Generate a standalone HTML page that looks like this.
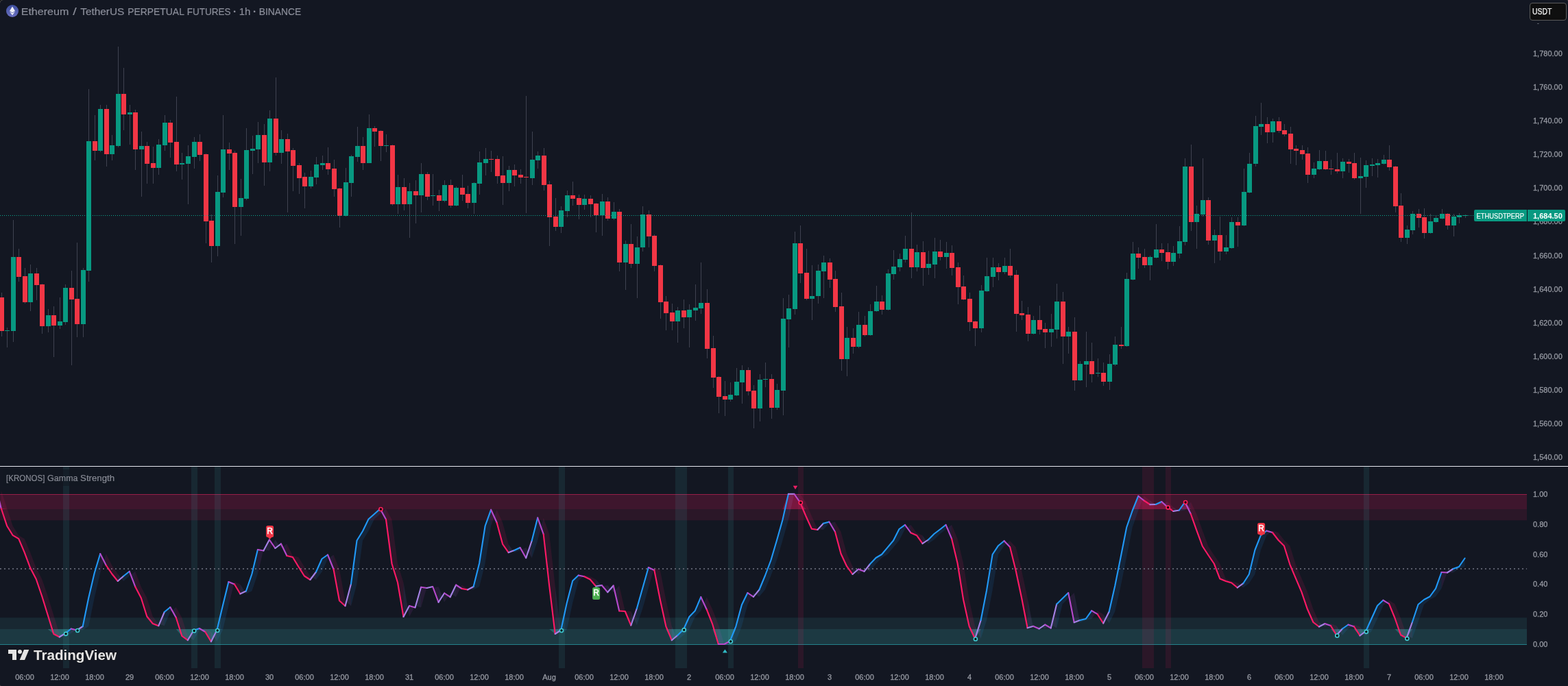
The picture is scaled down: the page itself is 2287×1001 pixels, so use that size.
<!DOCTYPE html>
<html lang="en"><head><meta charset="utf-8"><title>ETHUSDTPERP chart</title>
<style>html,body{margin:0;padding:0;background:#131722;width:2287px;height:1001px;overflow:hidden}svg{display:block}text{font-family:"Liberation Sans",sans-serif}</style></head><body>
<svg width="2287" height="1001" viewBox="0 0 2287 1001">
<rect width="2287" height="1001" fill="#131722"/>
<g shape-rendering="crispEdges">
<path d="M2 427V491M10 478V507M19 321V499M27 363V411M36 391V443M44 386V454M53 391V438M61 414V487M70 451V485M78 447V521M87 434V480M95 415V474M104 395V533M112 354V492M121 391V492M129 130V411M138 168V234M146 153V222M155 153V243M163 197V234M172 68V215M180 99V190M189 153V211M197 160V248M206 192V287M214 207V268M223 214V268M231 203V255M240 168V220M248 175V230M257 141V250M265 223V262M274 212V298M283 200V246M291 196V235M300 224V355M308 313V383M317 256V374M325 168V288M334 208V248M342 220V356M351 261V344M359 187V292M368 198V254M376 178V238M385 181V271M393 161V250M402 113V227M410 190V239M419 195V310M427 216V279M436 238V283M444 252V304M453 249V275M461 229V269M470 227V248M478 215V255M487 233V287M495 274V332M504 245V316M512 226V287M521 185V236M529 200V248M538 167V238M546 184V214M555 190V235M563 196V222M572 211V300M580 255V312M589 260V307M597 267V347M606 263V326M614 238V310M623 251V292M631 254V300M640 277V308M648 263V295M657 262V303M665 272V301M674 255V293M682 271V304M691 266V312M699 221V284M708 216V256M716 220V251M725 227V268M733 228V299M742 242V279M750 240V272M759 247V268M767 140V311M776 192V270M784 221V246M793 216V278M801 264V359M810 289V337M818 301V340M827 278V317M835 265V300M844 284V320M852 284V306M861 285V317M869 296V339M878 283V344M886 288V322M895 295V321M903 305V396M912 351V423M920 327V391M929 345V435M937 301V367M946 307V361M954 342V396M963 386V465M971 432V482M980 443V482M988 448V500M997 437V479M1005 444V507M1014 415V468M1022 383V458M1031 422V523M1040 490V566M1048 549V603M1057 556V607M1065 558V586M1074 537V578M1082 533V589M1091 536V577M1099 562V625M1108 546V615M1116 529V565M1125 546V611M1133 560V598M1142 435V606M1150 430V507M1159 338V459M1167 329V413M1176 363V438M1184 387V467M1193 386V443M1201 373V435M1210 377V420M1218 395V455M1227 427V541M1235 477V549M1244 479V516M1252 455V508M1261 461V491M1269 444V490M1278 417V455M1286 431V459M1295 393V453M1303 365V408M1312 370V396M1320 344V383M1329 310V406M1337 357V396M1346 352V417M1354 366V401M1363 347V406M1371 350V380M1380 353V392M1388 358V402M1397 383V444M1405 402V438M1414 427V483M1422 468V505M1431 416V485M1439 376V426M1448 376V419M1456 384V409M1465 376V400M1473 363V405M1482 394V484M1490 439V467M1499 448V498M1507 461V488M1516 446V488M1524 471V508M1533 458V506M1541 414V494M1550 426V531M1558 477V516M1567 463V570M1575 527V556M1584 484V565M1592 500V558M1601 523V550M1609 529V563M1618 517V569M1626 491V534M1635 477V509M1643 398V506M1652 353V409M1660 361V392M1669 363V391M1677 373V409M1686 327V377M1694 355V381M1703 355V393M1711 359V388M1720 330V377M1728 231V358M1737 211V337M1745 300V363M1754 231V316M1762 288V357M1771 335V384M1779 316V380M1788 343V371M1796 317V363M1805 317V360M1814 246V330M1822 223V282M1831 169V243M1839 150V197M1848 171V209M1856 173V208M1865 171V194M1873 181V199M1882 185V239M1890 212V241M1899 212V233M1907 215V267M1916 237V260M1924 219V248M1933 220V248M1941 233V255M1950 223V253M1958 231V260M1967 232V252M1975 223V262M1984 230V312M1992 234V274M2001 231V257M2009 232V259M2018 226V240M2026 212V249M2035 242V310M2043 282V353M2052 329V356M2060 308V342M2069 305V332M2077 304V348M2086 312V341M2094 315V325M2103 305V320M2111 311V335M2120 312V345M2128 311V326M2137 313V318" stroke="#3f4250" stroke-width="1" fill="none" transform="translate(0.5,0)"/>
<path d="M7 482h7V483h-7zM16 375h7V483h-7zM41 399h7V441h-7zM67 460h7V476h-7zM84 469h7V475h-7zM92 420h7V470h-7zM118 394h7V473h-7zM126 206h7V395h-7zM143 159h7V220h-7zM160 212h7V225h-7zM169 137h7V213h-7zM186 164h7V167h-7zM203 213h7V218h-7zM228 211h7V245h-7zM237 179h7V212h-7zM262 238h7V240h-7zM271 228h7V239h-7zM280 207h7V229h-7zM314 280h7V359h-7zM322 218h7V281h-7zM348 289h7V302h-7zM356 219h7V290h-7zM365 217h7V220h-7zM373 197h7V218h-7zM390 173h7V237h-7zM407 203h7V223h-7zM450 258h7V272h-7zM458 240h7V259h-7zM467 238h7V241h-7zM501 266h7V315h-7zM509 228h7V267h-7zM518 213h7V229h-7zM535 187h7V238h-7zM560 212h7V213h-7zM577 273h7V298h-7zM594 279h7V298h-7zM611 254h7V285h-7zM628 285h7V286h-7zM645 270h7V293h-7zM662 274h7V300h-7zM688 267h7V296h-7zM696 237h7V268h-7zM705 232h7V238h-7zM739 248h7V267h-7zM773 233h7V260h-7zM781 227h7V234h-7zM815 307h7V331h-7zM824 285h7V308h-7zM849 290h7V299h-7zM875 294h7V314h-7zM892 309h7V319h-7zM909 356h7V383h-7zM926 361h7V385h-7zM934 313h7V361h-7zM985 453h7V469h-7zM1002 452h7V463h-7zM1011 449h7V453h-7zM1019 442h7V450h-7zM1062 576h7V583h-7zM1071 557h7V577h-7zM1079 540h7V558h-7zM1105 554h7V596h-7zM1113 553h7V554h-7zM1130 569h7V595h-7zM1139 465h7V570h-7zM1147 450h7V466h-7zM1156 355h7V451h-7zM1181 432h7V436h-7zM1190 395h7V432h-7zM1198 383h7V396h-7zM1232 493h7V524h-7zM1249 474h7V506h-7zM1266 454h7V489h-7zM1275 440h7V454h-7zM1292 399h7V452h-7zM1300 389h7V400h-7zM1309 378h7V390h-7zM1317 363h7V379h-7zM1334 368h7V390h-7zM1351 385h7V391h-7zM1360 367h7V386h-7zM1377 369h7V375h-7zM1428 424h7V479h-7zM1436 403h7V425h-7zM1445 390h7V404h-7zM1462 388h7V397h-7zM1504 467h7V487h-7zM1530 480h7V485h-7zM1538 440h7V481h-7zM1555 484h7V491h-7zM1572 531h7V555h-7zM1581 527h7V532h-7zM1598 544h7V545h-7zM1615 531h7V557h-7zM1623 503h7V532h-7zM1640 407h7V505h-7zM1649 370h7V408h-7zM1674 375h7V387h-7zM1683 364h7V376h-7zM1708 369h7V382h-7zM1717 352h7V370h-7zM1725 243h7V353h-7zM1742 312h7V324h-7zM1751 292h7V313h-7zM1768 343h7V351h-7zM1785 361h7V367h-7zM1793 324h7V362h-7zM1811 280h7V329h-7zM1819 239h7V281h-7zM1828 184h7V239h-7zM1836 181h7V185h-7zM1853 177h7V193h-7zM1913 246h7V255h-7zM1921 235h7V247h-7zM1955 236h7V250h-7zM1981 257h7V260h-7zM1989 241h7V258h-7zM1998 240h7V242h-7zM2006 238h7V241h-7zM2015 233h7V239h-7zM2049 335h7V347h-7zM2057 312h7V336h-7zM2083 323h7V340h-7zM2091 318h7V324h-7zM2100 312h7V319h-7zM2117 316h7V329h-7zM2125 314h7V317h-7zM2134 314h7V315h-7z" fill="#089981"/>
<path d="M-1 434h7V483h-7zM24 375h7V404h-7zM33 403h7V441h-7zM50 399h7V416h-7zM58 415h7V476h-7zM75 460h7V475h-7zM101 420h7V437h-7zM109 436h7V473h-7zM135 206h7V220h-7zM152 159h7V225h-7zM177 137h7V167h-7zM194 164h7V218h-7zM211 213h7V239h-7zM220 238h7V245h-7zM245 179h7V208h-7zM254 207h7V240h-7zM288 207h7V226h-7zM297 225h7V323h-7zM305 322h7V359h-7zM331 218h7V224h-7zM339 223h7V302h-7zM382 197h7V237h-7zM399 173h7V223h-7zM416 203h7V221h-7zM424 219h7V242h-7zM433 241h7V260h-7zM441 258h7V272h-7zM475 238h7V247h-7zM484 246h7V276h-7zM492 275h7V315h-7zM526 213h7V238h-7zM543 187h7V192h-7zM552 191h7V213h-7zM569 212h7V298h-7zM586 273h7V298h-7zM603 279h7V285h-7zM620 254h7V287h-7zM637 285h7V293h-7zM654 270h7V300h-7zM671 274h7V284h-7zM679 283h7V296h-7zM713 232h7V233h-7zM722 232h7V257h-7zM730 256h7V267h-7zM747 248h7V256h-7zM756 255h7V259h-7zM764 258h7V259h-7zM790 227h7V270h-7zM798 269h7V317h-7zM807 316h7V331h-7zM832 285h7V290h-7zM841 289h7V299h-7zM858 290h7V298h-7zM866 297h7V314h-7zM883 294h7V319h-7zM900 309h7V383h-7zM917 356h7V385h-7zM943 313h7V345h-7zM951 344h7V388h-7zM960 387h7V441h-7zM968 440h7V457h-7zM977 456h7V469h-7zM994 453h7V463h-7zM1028 442h7V509h-7zM1037 508h7V551h-7zM1045 550h7V579h-7zM1054 578h7V583h-7zM1088 540h7V571h-7zM1096 570h7V596h-7zM1122 553h7V595h-7zM1164 355h7V399h-7zM1173 398h7V436h-7zM1207 383h7V408h-7zM1215 407h7V448h-7zM1224 447h7V524h-7zM1241 493h7V506h-7zM1258 474h7V489h-7zM1283 440h7V452h-7zM1326 363h7V390h-7zM1343 368h7V391h-7zM1368 367h7V375h-7zM1385 369h7V391h-7zM1394 390h7V419h-7zM1402 418h7V437h-7zM1411 436h7V470h-7zM1419 469h7V479h-7zM1453 390h7V397h-7zM1470 388h7V402h-7zM1479 401h7V458h-7zM1487 457h7V460h-7zM1496 459h7V487h-7zM1513 467h7V481h-7zM1521 480h7V485h-7zM1547 440h7V491h-7zM1564 484h7V555h-7zM1589 527h7V546h-7zM1606 544h7V557h-7zM1632 503h7V505h-7zM1657 370h7V376h-7zM1666 375h7V387h-7zM1691 364h7V369h-7zM1700 368h7V382h-7zM1734 243h7V324h-7zM1759 292h7V351h-7zM1776 343h7V367h-7zM1802 324h7V329h-7zM1845 181h7V193h-7zM1862 177h7V191h-7zM1870 190h7V196h-7zM1879 195h7V218h-7zM1887 217h7V220h-7zM1896 219h7V225h-7zM1904 224h7V255h-7zM1930 235h7V247h-7zM1938 246h7V247h-7zM1947 247h7V250h-7zM1964 236h7V239h-7zM1972 238h7V260h-7zM2023 233h7V244h-7zM2032 243h7V301h-7zM2040 300h7V347h-7zM2066 312h7V318h-7zM2074 317h7V340h-7zM2108 312h7V329h-7z" fill="#f23645"/>
<line x1="0" y1="314.5" x2="2150" y2="314.5" stroke="#0aa88e" stroke-width="1" stroke-dasharray="1 2"/>
</g>
<g>
<rect x="0" y="721.5" width="2227" height="37.8" fill="#ff1a66" fill-opacity="0.10"/>
<rect x="0" y="721.5" width="2227" height="21.5" fill="#ff1a66" fill-opacity="0.09"/>
<rect x="0" y="901.3" width="2227" height="39.2" fill="#40c8c8" fill-opacity="0.10"/>
<rect x="0" y="918" width="2227" height="22.5" fill="#40c8c8" fill-opacity="0.11"/>
<rect x="0" y="721" width="2227" height="1" fill="#e0245e" fill-opacity="0.6"/>
<rect x="0" y="940" width="2227" height="1" fill="#2aa5b0" fill-opacity="0.7"/>
<rect x="92" y="681" width="9" height="294" fill="#40c8c8" fill-opacity="0.10"/>
<rect x="279" y="681" width="9" height="294" fill="#40c8c8" fill-opacity="0.10"/>
<rect x="313" y="681" width="9" height="294" fill="#40c8c8" fill-opacity="0.10"/>
<rect x="815" y="681" width="9" height="294" fill="#40c8c8" fill-opacity="0.10"/>
<rect x="985" y="681" width="9" height="294" fill="#40c8c8" fill-opacity="0.10"/>
<rect x="994" y="681" width="8" height="294" fill="#40c8c8" fill-opacity="0.10"/>
<rect x="1062" y="681" width="8" height="294" fill="#40c8c8" fill-opacity="0.10"/>
<rect x="1989" y="681" width="8" height="294" fill="#40c8c8" fill-opacity="0.10"/>
<rect x="1164" y="681" width="8" height="294" fill="#ff1a66" fill-opacity="0.10"/>
<rect x="1666" y="681" width="8" height="294" fill="#ff1a66" fill-opacity="0.10"/>
<rect x="1674" y="681" width="9" height="294" fill="#ff1a66" fill-opacity="0.10"/>
<rect x="1700" y="681" width="8" height="294" fill="#ff1a66" fill-opacity="0.10"/>
<line x1="0" y1="830" x2="2227" y2="830" stroke="#5b5e6c" stroke-width="2" stroke-dasharray="2 4" shape-rendering="crispEdges"/>
<polygon points="69.7,918.0 78.2,925.0 86.7,929.5 95.2,924.2 103.7,918.0 112.2,919.5 120.7,918.0 120.7,918.0 69.7,918.0" fill="#40c8c8" fill-opacity="0.3"/>
<polygon points="256.8,918.0 265.3,928.0 273.8,934.2 282.3,920.0 290.8,918.0 299.3,922.0 307.9,936.2 316.4,919.5 324.9,918.0 324.9,918.0 256.8,918.0" fill="#40c8c8" fill-opacity="0.3"/>
<polygon points="801.2,918.0 809.7,925.0 818.2,919.5 826.7,918.0 826.7,918.0 801.2,918.0" fill="#40c8c8" fill-opacity="0.3"/>
<polygon points="971.3,918.0 979.8,934.2 988.3,927.0 996.8,918.8 1005.3,918.0 1005.3,918.0 971.3,918.0" fill="#40c8c8" fill-opacity="0.3"/>
<polygon points="1039.3,918.0 1047.8,940.0 1056.3,940.0 1064.8,935.5 1073.4,918.0 1073.4,918.0 1039.3,918.0" fill="#40c8c8" fill-opacity="0.3"/>
<polygon points="1413.6,918.0 1422.1,932.0 1430.6,918.0 1430.6,918.0 1413.6,918.0" fill="#40c8c8" fill-opacity="0.3"/>
<polygon points="1940.9,918.0 1949.4,927.0 1957.9,918.0 1957.9,918.0 1940.9,918.0" fill="#40c8c8" fill-opacity="0.3"/>
<polygon points="1974.9,918.0 1983.5,927.5 1992.0,921.2 2000.5,918.0 2000.5,918.0 1974.9,918.0" fill="#40c8c8" fill-opacity="0.3"/>
<polygon points="2034.5,918.0 2043.0,926.5 2051.5,931.2 2060.0,918.0 2060.0,918.0 2034.5,918.0" fill="#40c8c8" fill-opacity="0.3"/>
<polygon points="1.6,741.5 10.2,743.0 10.2,743.0 1.6,743.0" fill="#ff1a66" fill-opacity="0.3"/>
<polygon points="546.0,743.0 554.5,742.5 563.0,743.0 563.0,743.0 546.0,743.0" fill="#ff1a66" fill-opacity="0.3"/>
<polygon points="1141.4,743.0 1149.9,720.8 1158.4,720.8 1166.9,733.0 1175.4,743.0 1175.4,743.0 1141.4,743.0" fill="#ff1a66" fill-opacity="0.3"/>
<polygon points="1651.7,743.0 1660.2,723.8 1668.7,730.5 1677.3,736.2 1685.8,736.0 1694.3,732.0 1702.8,740.0 1711.3,743.0 1711.3,743.0 1651.7,743.0" fill="#ff1a66" fill-opacity="0.3"/>
<polygon points="1719.8,743.0 1728.3,732.5 1736.8,743.0 1736.8,743.0 1719.8,743.0" fill="#ff1a66" fill-opacity="0.3"/>
<polygon points="1.6,741.5 10.2,767.5 10.2,741.5 1.6,715.5" fill="#ff1a66" fill-opacity="0.115"/>
<polygon points="10.2,767.5 18.7,781.2 18.7,767.5 10.2,741.5" fill="#ff1a66" fill-opacity="0.115"/>
<polygon points="18.7,781.2 27.2,786.2 27.2,781.2 18.7,767.5" fill="#ff1a66" fill-opacity="0.115"/>
<polygon points="27.2,786.2 35.7,806.2 35.7,786.2 27.2,781.2" fill="#ff1a66" fill-opacity="0.115"/>
<polygon points="35.7,806.2 44.2,828.8 44.2,806.2 35.7,786.2" fill="#ff1a66" fill-opacity="0.115"/>
<polygon points="44.2,828.8 52.7,845.0 52.7,828.8 44.2,806.2" fill="#ff1a66" fill-opacity="0.115"/>
<polygon points="52.7,845.0 61.2,870.0 61.2,845.0 52.7,828.8" fill="#ff1a66" fill-opacity="0.115"/>
<polygon points="61.2,870.0 69.7,897.5 69.7,870.0 61.2,845.0" fill="#ff1a66" fill-opacity="0.115"/>
<polygon points="69.7,897.5 78.2,925.0 78.2,897.5 69.7,870.0" fill="#ff1a66" fill-opacity="0.115"/>
<polygon points="78.2,925.0 86.7,929.5 86.7,925.0 78.2,897.5" fill="#ff1a66" fill-opacity="0.115"/>
<polygon points="86.7,929.5 95.2,924.2 95.2,929.5 86.7,925.0" fill="#a682e6" fill-opacity="0.115"/>
<polygon points="95.2,924.2 103.7,917.5 103.7,924.2 95.2,929.5" fill="#2199f8" fill-opacity="0.115"/>
<polygon points="103.7,917.5 112.2,919.5 112.2,917.5 103.7,924.2" fill="#b74acd" fill-opacity="0.115"/>
<polygon points="112.2,919.5 120.7,914.0 120.7,919.5 112.2,917.5" fill="#a682e6" fill-opacity="0.115"/>
<polygon points="120.7,914.0 129.2,872.5 129.2,914.0 120.7,919.5" fill="#2199f8" fill-opacity="0.115"/>
<polygon points="129.2,872.5 137.7,836.2 137.7,872.5 129.2,914.0" fill="#2199f8" fill-opacity="0.115"/>
<polygon points="137.7,836.2 146.2,808.0 146.2,836.2 137.7,872.5" fill="#2199f8" fill-opacity="0.115"/>
<polygon points="146.2,808.0 154.8,825.0 154.8,808.0 146.2,836.2" fill="#b74acd" fill-opacity="0.115"/>
<polygon points="154.8,825.0 163.3,837.5 163.3,825.0 154.8,808.0" fill="#ff1a66" fill-opacity="0.115"/>
<polygon points="163.3,837.5 171.8,848.0 171.8,837.5 163.3,825.0" fill="#ff1a66" fill-opacity="0.115"/>
<polygon points="171.8,848.0 180.3,840.5 180.3,848.0 171.8,837.5" fill="#a682e6" fill-opacity="0.115"/>
<polygon points="180.3,840.5 188.8,833.8 188.8,840.5 180.3,848.0" fill="#2199f8" fill-opacity="0.115"/>
<polygon points="188.8,833.8 197.3,856.2 197.3,833.8 188.8,840.5" fill="#b74acd" fill-opacity="0.115"/>
<polygon points="197.3,856.2 205.8,872.5 205.8,856.2 197.3,833.8" fill="#ff1a66" fill-opacity="0.115"/>
<polygon points="205.8,872.5 214.3,899.5 214.3,872.5 205.8,856.2" fill="#ff1a66" fill-opacity="0.115"/>
<polygon points="214.3,899.5 222.8,910.0 222.8,899.5 214.3,872.5" fill="#ff1a66" fill-opacity="0.115"/>
<polygon points="222.8,910.0 231.3,913.2 231.3,910.0 222.8,899.5" fill="#ff1a66" fill-opacity="0.115"/>
<polygon points="231.3,913.2 239.8,893.0 239.8,913.2 231.3,910.0" fill="#a682e6" fill-opacity="0.115"/>
<polygon points="239.8,893.0 248.3,886.0 248.3,893.0 239.8,913.2" fill="#2199f8" fill-opacity="0.115"/>
<polygon points="248.3,886.0 256.8,901.2 256.8,886.0 248.3,893.0" fill="#b74acd" fill-opacity="0.115"/>
<polygon points="256.8,901.2 265.3,928.0 265.3,901.2 256.8,886.0" fill="#ff1a66" fill-opacity="0.115"/>
<polygon points="265.3,928.0 273.8,934.2 273.8,928.0 265.3,901.2" fill="#ff1a66" fill-opacity="0.115"/>
<polygon points="273.8,934.2 282.3,920.0 282.3,934.2 273.8,928.0" fill="#a682e6" fill-opacity="0.115"/>
<polygon points="282.3,920.0 290.8,917.0 290.8,920.0 282.3,934.2" fill="#2199f8" fill-opacity="0.115"/>
<polygon points="290.8,917.0 299.3,922.0 299.3,917.0 290.8,920.0" fill="#b74acd" fill-opacity="0.115"/>
<polygon points="299.3,922.0 307.9,936.2 307.9,922.0 299.3,917.0" fill="#ff1a66" fill-opacity="0.115"/>
<polygon points="307.9,936.2 316.4,919.5 316.4,936.2 307.9,922.0" fill="#a682e6" fill-opacity="0.115"/>
<polygon points="316.4,919.5 324.9,883.8 324.9,919.5 316.4,936.2" fill="#2199f8" fill-opacity="0.115"/>
<polygon points="324.9,883.8 333.4,849.0 333.4,883.8 324.9,919.5" fill="#2199f8" fill-opacity="0.115"/>
<polygon points="333.4,849.0 341.9,852.5 341.9,849.0 333.4,883.8" fill="#b74acd" fill-opacity="0.115"/>
<polygon points="341.9,852.5 350.4,866.5 350.4,852.5 341.9,849.0" fill="#ff1a66" fill-opacity="0.115"/>
<polygon points="350.4,866.5 358.9,862.5 358.9,866.5 350.4,852.5" fill="#a682e6" fill-opacity="0.115"/>
<polygon points="358.9,862.5 367.4,837.5 367.4,862.5 358.9,866.5" fill="#2199f8" fill-opacity="0.115"/>
<polygon points="367.4,837.5 375.9,802.0 375.9,837.5 367.4,862.5" fill="#2199f8" fill-opacity="0.115"/>
<polygon points="375.9,802.0 384.4,803.5 384.4,802.0 375.9,837.5" fill="#b74acd" fill-opacity="0.115"/>
<polygon points="384.4,803.5 392.9,787.5 392.9,803.5 384.4,802.0" fill="#a682e6" fill-opacity="0.115"/>
<polygon points="392.9,787.5 401.4,800.0 401.4,787.5 392.9,803.5" fill="#b74acd" fill-opacity="0.115"/>
<polygon points="401.4,800.0 409.9,793.5 409.9,800.0 401.4,787.5" fill="#a682e6" fill-opacity="0.115"/>
<polygon points="409.9,793.5 418.4,811.0 418.4,793.5 409.9,800.0" fill="#b74acd" fill-opacity="0.115"/>
<polygon points="418.4,811.0 426.9,813.0 426.9,811.0 418.4,793.5" fill="#ff1a66" fill-opacity="0.115"/>
<polygon points="426.9,813.0 435.4,827.0 435.4,813.0 426.9,811.0" fill="#ff1a66" fill-opacity="0.115"/>
<polygon points="435.4,827.0 443.9,840.5 443.9,827.0 435.4,813.0" fill="#ff1a66" fill-opacity="0.115"/>
<polygon points="443.9,840.5 452.4,846.0 452.4,840.5 443.9,827.0" fill="#ff1a66" fill-opacity="0.115"/>
<polygon points="452.4,846.0 461.0,834.5 461.0,846.0 452.4,840.5" fill="#a682e6" fill-opacity="0.115"/>
<polygon points="461.0,834.5 469.5,815.5 469.5,834.5 461.0,846.0" fill="#2199f8" fill-opacity="0.115"/>
<polygon points="469.5,815.5 478.0,809.5 478.0,815.5 469.5,834.5" fill="#2199f8" fill-opacity="0.115"/>
<polygon points="478.0,809.5 486.5,830.5 486.5,809.5 478.0,815.5" fill="#b74acd" fill-opacity="0.115"/>
<polygon points="486.5,830.5 495.0,876.5 495.0,830.5 486.5,809.5" fill="#ff1a66" fill-opacity="0.115"/>
<polygon points="495.0,876.5 503.5,884.2 503.5,876.5 495.0,830.5" fill="#ff1a66" fill-opacity="0.115"/>
<polygon points="503.5,884.2 512.0,852.0 512.0,884.2 503.5,876.5" fill="#a682e6" fill-opacity="0.115"/>
<polygon points="512.0,852.0 520.5,788.8 520.5,852.0 512.0,884.2" fill="#2199f8" fill-opacity="0.115"/>
<polygon points="520.5,788.8 529.0,775.0 529.0,788.8 520.5,852.0" fill="#2199f8" fill-opacity="0.115"/>
<polygon points="529.0,775.0 537.5,757.5 537.5,775.0 529.0,788.8" fill="#2199f8" fill-opacity="0.115"/>
<polygon points="537.5,757.5 546.0,750.0 546.0,757.5 537.5,775.0" fill="#2199f8" fill-opacity="0.115"/>
<polygon points="546.0,750.0 554.5,742.5 554.5,750.0 546.0,757.5" fill="#2199f8" fill-opacity="0.115"/>
<polygon points="554.5,742.5 563.0,758.0 563.0,742.5 554.5,750.0" fill="#b74acd" fill-opacity="0.115"/>
<polygon points="563.0,758.0 571.5,822.5 571.5,758.0 563.0,742.5" fill="#ff1a66" fill-opacity="0.115"/>
<polygon points="571.5,822.5 580.0,850.0 580.0,822.5 571.5,758.0" fill="#ff1a66" fill-opacity="0.115"/>
<polygon points="580.0,850.0 588.5,900.0 588.5,850.0 580.0,822.5" fill="#ff1a66" fill-opacity="0.115"/>
<polygon points="588.5,900.0 597.0,884.0 597.0,900.0 588.5,850.0" fill="#a682e6" fill-opacity="0.115"/>
<polygon points="597.0,884.0 605.5,886.5 605.5,884.0 597.0,900.0" fill="#b74acd" fill-opacity="0.115"/>
<polygon points="605.5,886.5 614.1,856.8 614.1,886.5 605.5,884.0" fill="#a682e6" fill-opacity="0.115"/>
<polygon points="614.1,856.8 622.6,858.0 622.6,856.8 614.1,886.5" fill="#b74acd" fill-opacity="0.115"/>
<polygon points="622.6,858.0 631.1,856.0 631.1,858.0 622.6,856.8" fill="#a682e6" fill-opacity="0.115"/>
<polygon points="631.1,856.0 639.6,878.8 639.6,856.0 631.1,858.0" fill="#b74acd" fill-opacity="0.115"/>
<polygon points="639.6,878.8 648.1,865.5 648.1,878.8 639.6,856.0" fill="#a682e6" fill-opacity="0.115"/>
<polygon points="648.1,865.5 656.6,871.2 656.6,865.5 648.1,878.8" fill="#b74acd" fill-opacity="0.115"/>
<polygon points="656.6,871.2 665.1,853.5 665.1,871.2 656.6,865.5" fill="#a682e6" fill-opacity="0.115"/>
<polygon points="665.1,853.5 673.6,859.0 673.6,853.5 665.1,871.2" fill="#b74acd" fill-opacity="0.115"/>
<polygon points="673.6,859.0 682.1,860.5 682.1,859.0 673.6,853.5" fill="#ff1a66" fill-opacity="0.115"/>
<polygon points="682.1,860.5 690.6,856.0 690.6,860.5 682.1,859.0" fill="#a682e6" fill-opacity="0.115"/>
<polygon points="690.6,856.0 699.1,822.0 699.1,856.0 690.6,860.5" fill="#2199f8" fill-opacity="0.115"/>
<polygon points="699.1,822.0 707.6,767.5 707.6,822.0 699.1,856.0" fill="#2199f8" fill-opacity="0.115"/>
<polygon points="707.6,767.5 716.1,743.8 716.1,767.5 707.6,822.0" fill="#2199f8" fill-opacity="0.115"/>
<polygon points="716.1,743.8 724.6,762.5 724.6,743.8 716.1,767.5" fill="#b74acd" fill-opacity="0.115"/>
<polygon points="724.6,762.5 733.1,794.0 733.1,762.5 724.6,743.8" fill="#ff1a66" fill-opacity="0.115"/>
<polygon points="733.1,794.0 741.6,806.2 741.6,794.0 733.1,762.5" fill="#ff1a66" fill-opacity="0.115"/>
<polygon points="741.6,806.2 750.1,803.0 750.1,806.2 741.6,794.0" fill="#a682e6" fill-opacity="0.115"/>
<polygon points="750.1,803.0 758.6,799.0 758.6,803.0 750.1,806.2" fill="#2199f8" fill-opacity="0.115"/>
<polygon points="758.6,799.0 767.2,814.2 767.2,799.0 758.6,803.0" fill="#b74acd" fill-opacity="0.115"/>
<polygon points="767.2,814.2 775.7,789.0 775.7,814.2 767.2,799.0" fill="#a682e6" fill-opacity="0.115"/>
<polygon points="775.7,789.0 784.2,755.5 784.2,789.0 775.7,814.2" fill="#2199f8" fill-opacity="0.115"/>
<polygon points="784.2,755.5 792.7,779.5 792.7,755.5 784.2,789.0" fill="#b74acd" fill-opacity="0.115"/>
<polygon points="792.7,779.5 801.2,855.0 801.2,779.5 792.7,755.5" fill="#ff1a66" fill-opacity="0.115"/>
<polygon points="801.2,855.0 809.7,925.0 809.7,855.0 801.2,779.5" fill="#ff1a66" fill-opacity="0.115"/>
<polygon points="809.7,925.0 818.2,919.5 818.2,925.0 809.7,855.0" fill="#a682e6" fill-opacity="0.115"/>
<polygon points="818.2,919.5 826.7,880.0 826.7,919.5 818.2,925.0" fill="#2199f8" fill-opacity="0.115"/>
<polygon points="826.7,880.0 835.2,847.5 835.2,880.0 826.7,919.5" fill="#2199f8" fill-opacity="0.115"/>
<polygon points="835.2,847.5 843.7,839.5 843.7,847.5 835.2,880.0" fill="#2199f8" fill-opacity="0.115"/>
<polygon points="843.7,839.5 852.2,841.2 852.2,839.5 843.7,847.5" fill="#b74acd" fill-opacity="0.115"/>
<polygon points="852.2,841.2 860.7,845.5 860.7,841.2 852.2,839.5" fill="#ff1a66" fill-opacity="0.115"/>
<polygon points="860.7,845.5 869.2,855.5 869.2,845.5 860.7,841.2" fill="#ff1a66" fill-opacity="0.115"/>
<polygon points="869.2,855.5 877.7,854.0 877.7,855.5 869.2,845.5" fill="#a682e6" fill-opacity="0.115"/>
<polygon points="877.7,854.0 886.2,864.2 886.2,854.0 877.7,855.5" fill="#b74acd" fill-opacity="0.115"/>
<polygon points="886.2,864.2 894.7,854.5 894.7,864.2 886.2,854.0" fill="#a682e6" fill-opacity="0.115"/>
<polygon points="894.7,854.5 903.2,891.5 903.2,854.5 894.7,864.2" fill="#b74acd" fill-opacity="0.115"/>
<polygon points="903.2,891.5 911.7,892.0 911.7,891.5 903.2,854.5" fill="#ff1a66" fill-opacity="0.115"/>
<polygon points="911.7,892.0 920.3,912.5 920.3,892.0 911.7,891.5" fill="#ff1a66" fill-opacity="0.115"/>
<polygon points="920.3,912.5 928.8,888.0 928.8,912.5 920.3,892.0" fill="#a682e6" fill-opacity="0.115"/>
<polygon points="928.8,888.0 937.3,858.0 937.3,888.0 928.8,912.5" fill="#2199f8" fill-opacity="0.115"/>
<polygon points="937.3,858.0 945.8,828.0 945.8,858.0 937.3,888.0" fill="#2199f8" fill-opacity="0.115"/>
<polygon points="945.8,828.0 954.3,832.0 954.3,828.0 945.8,858.0" fill="#b74acd" fill-opacity="0.115"/>
<polygon points="954.3,832.0 962.8,875.0 962.8,832.0 954.3,828.0" fill="#ff1a66" fill-opacity="0.115"/>
<polygon points="962.8,875.0 971.3,913.8 971.3,875.0 962.8,832.0" fill="#ff1a66" fill-opacity="0.115"/>
<polygon points="971.3,913.8 979.8,934.2 979.8,913.8 971.3,875.0" fill="#ff1a66" fill-opacity="0.115"/>
<polygon points="979.8,934.2 988.3,927.0 988.3,934.2 979.8,913.8" fill="#a682e6" fill-opacity="0.115"/>
<polygon points="988.3,927.0 996.8,918.8 996.8,927.0 988.3,934.2" fill="#2199f8" fill-opacity="0.115"/>
<polygon points="996.8,918.8 1005.3,900.0 1005.3,918.8 996.8,927.0" fill="#2199f8" fill-opacity="0.115"/>
<polygon points="1005.3,900.0 1013.8,891.2 1013.8,900.0 1005.3,918.8" fill="#2199f8" fill-opacity="0.115"/>
<polygon points="1013.8,891.2 1022.3,871.2 1022.3,891.2 1013.8,900.0" fill="#2199f8" fill-opacity="0.115"/>
<polygon points="1022.3,871.2 1030.8,889.5 1030.8,871.2 1022.3,891.2" fill="#b74acd" fill-opacity="0.115"/>
<polygon points="1030.8,889.5 1039.3,911.2 1039.3,889.5 1030.8,871.2" fill="#ff1a66" fill-opacity="0.115"/>
<polygon points="1039.3,911.2 1047.8,940.0 1047.8,911.2 1039.3,889.5" fill="#ff1a66" fill-opacity="0.115"/>
<polygon points="1047.8,940.0 1056.3,940.0 1056.3,940.0 1047.8,911.2" fill="#b74acd" fill-opacity="0.115"/>
<polygon points="1056.3,940.0 1064.8,935.5 1064.8,940.0 1056.3,940.0" fill="#b74acd" fill-opacity="0.115"/>
<polygon points="1064.8,935.5 1073.4,913.8 1073.4,935.5 1064.8,940.0" fill="#2199f8" fill-opacity="0.115"/>
<polygon points="1073.4,913.8 1081.9,882.5 1081.9,913.8 1073.4,935.5" fill="#2199f8" fill-opacity="0.115"/>
<polygon points="1081.9,882.5 1090.4,865.0 1090.4,882.5 1081.9,913.8" fill="#2199f8" fill-opacity="0.115"/>
<polygon points="1090.4,865.0 1098.9,870.8 1098.9,865.0 1090.4,882.5" fill="#b74acd" fill-opacity="0.115"/>
<polygon points="1098.9,870.8 1107.4,860.5 1107.4,870.8 1098.9,865.0" fill="#a682e6" fill-opacity="0.115"/>
<polygon points="1107.4,860.5 1115.9,840.0 1115.9,860.5 1107.4,870.8" fill="#2199f8" fill-opacity="0.115"/>
<polygon points="1115.9,840.0 1124.4,817.5 1124.4,840.0 1115.9,860.5" fill="#2199f8" fill-opacity="0.115"/>
<polygon points="1124.4,817.5 1132.9,788.8 1132.9,817.5 1124.4,840.0" fill="#2199f8" fill-opacity="0.115"/>
<polygon points="1132.9,788.8 1141.4,758.8 1141.4,788.8 1132.9,817.5" fill="#2199f8" fill-opacity="0.115"/>
<polygon points="1141.4,758.8 1149.9,720.8 1149.9,758.8 1141.4,788.8" fill="#2199f8" fill-opacity="0.115"/>
<polygon points="1149.9,720.8 1158.4,720.8 1158.4,720.8 1149.9,758.8" fill="#a682e6" fill-opacity="0.115"/>
<polygon points="1158.4,720.8 1166.9,733.0 1166.9,720.8 1158.4,720.8" fill="#b74acd" fill-opacity="0.115"/>
<polygon points="1166.9,733.0 1175.4,753.0 1175.4,733.0 1166.9,720.8" fill="#ff1a66" fill-opacity="0.115"/>
<polygon points="1175.4,753.0 1183.9,771.8 1183.9,753.0 1175.4,733.0" fill="#ff1a66" fill-opacity="0.115"/>
<polygon points="1183.9,771.8 1192.4,773.0 1192.4,771.8 1183.9,753.0" fill="#ff1a66" fill-opacity="0.115"/>
<polygon points="1192.4,773.0 1200.9,763.8 1200.9,773.0 1192.4,771.8" fill="#a682e6" fill-opacity="0.115"/>
<polygon points="1200.9,763.8 1209.4,761.5 1209.4,763.8 1200.9,773.0" fill="#2199f8" fill-opacity="0.115"/>
<polygon points="1209.4,761.5 1218.0,776.0 1218.0,761.5 1209.4,763.8" fill="#b74acd" fill-opacity="0.115"/>
<polygon points="1218.0,776.0 1226.5,808.0 1226.5,776.0 1218.0,761.5" fill="#ff1a66" fill-opacity="0.115"/>
<polygon points="1226.5,808.0 1235.0,826.2 1235.0,808.0 1226.5,776.0" fill="#ff1a66" fill-opacity="0.115"/>
<polygon points="1235.0,826.2 1243.5,838.0 1243.5,826.2 1235.0,808.0" fill="#ff1a66" fill-opacity="0.115"/>
<polygon points="1243.5,838.0 1252.0,830.5 1252.0,838.0 1243.5,826.2" fill="#a682e6" fill-opacity="0.115"/>
<polygon points="1252.0,830.5 1260.5,833.8 1260.5,830.5 1252.0,838.0" fill="#b74acd" fill-opacity="0.115"/>
<polygon points="1260.5,833.8 1269.0,823.0 1269.0,833.8 1260.5,830.5" fill="#a682e6" fill-opacity="0.115"/>
<polygon points="1269.0,823.0 1277.5,814.0 1277.5,823.0 1269.0,833.8" fill="#2199f8" fill-opacity="0.115"/>
<polygon points="1277.5,814.0 1286.0,809.0 1286.0,814.0 1277.5,823.0" fill="#2199f8" fill-opacity="0.115"/>
<polygon points="1286.0,809.0 1294.5,798.8 1294.5,809.0 1286.0,814.0" fill="#2199f8" fill-opacity="0.115"/>
<polygon points="1294.5,798.8 1303.0,788.8 1303.0,798.8 1294.5,809.0" fill="#2199f8" fill-opacity="0.115"/>
<polygon points="1303.0,788.8 1311.5,772.0 1311.5,788.8 1303.0,798.8" fill="#2199f8" fill-opacity="0.115"/>
<polygon points="1311.5,772.0 1320.0,765.8 1320.0,772.0 1311.5,788.8" fill="#2199f8" fill-opacity="0.115"/>
<polygon points="1320.0,765.8 1328.5,777.5 1328.5,765.8 1320.0,772.0" fill="#b74acd" fill-opacity="0.115"/>
<polygon points="1328.5,777.5 1337.0,781.2 1337.0,777.5 1328.5,765.8" fill="#ff1a66" fill-opacity="0.115"/>
<polygon points="1337.0,781.2 1345.5,793.2 1345.5,781.2 1337.0,777.5" fill="#ff1a66" fill-opacity="0.115"/>
<polygon points="1345.5,793.2 1354.0,787.5 1354.0,793.2 1345.5,781.2" fill="#a682e6" fill-opacity="0.115"/>
<polygon points="1354.0,787.5 1362.5,779.0 1362.5,787.5 1354.0,793.2" fill="#2199f8" fill-opacity="0.115"/>
<polygon points="1362.5,779.0 1371.1,772.5 1371.1,779.0 1362.5,787.5" fill="#2199f8" fill-opacity="0.115"/>
<polygon points="1371.1,772.5 1379.6,765.8 1379.6,772.5 1371.1,779.0" fill="#2199f8" fill-opacity="0.115"/>
<polygon points="1379.6,765.8 1388.1,786.2 1388.1,765.8 1379.6,772.5" fill="#b74acd" fill-opacity="0.115"/>
<polygon points="1388.1,786.2 1396.6,822.0 1396.6,786.2 1388.1,765.8" fill="#ff1a66" fill-opacity="0.115"/>
<polygon points="1396.6,822.0 1405.1,875.0 1405.1,822.0 1396.6,786.2" fill="#ff1a66" fill-opacity="0.115"/>
<polygon points="1405.1,875.0 1413.6,913.8 1413.6,875.0 1405.1,822.0" fill="#ff1a66" fill-opacity="0.115"/>
<polygon points="1413.6,913.8 1422.1,932.0 1422.1,913.8 1413.6,875.0" fill="#ff1a66" fill-opacity="0.115"/>
<polygon points="1422.1,932.0 1430.6,905.0 1430.6,932.0 1422.1,913.8" fill="#a682e6" fill-opacity="0.115"/>
<polygon points="1430.6,905.0 1439.1,861.2 1439.1,905.0 1430.6,932.0" fill="#2199f8" fill-opacity="0.115"/>
<polygon points="1439.1,861.2 1447.6,809.0 1447.6,861.2 1439.1,905.0" fill="#2199f8" fill-opacity="0.115"/>
<polygon points="1447.6,809.0 1456.1,796.2 1456.1,809.0 1447.6,861.2" fill="#2199f8" fill-opacity="0.115"/>
<polygon points="1456.1,796.2 1464.6,789.2 1464.6,796.2 1456.1,809.0" fill="#2199f8" fill-opacity="0.115"/>
<polygon points="1464.6,789.2 1473.1,798.2 1473.1,789.2 1464.6,796.2" fill="#b74acd" fill-opacity="0.115"/>
<polygon points="1473.1,798.2 1481.6,832.5 1481.6,798.2 1473.1,789.2" fill="#ff1a66" fill-opacity="0.115"/>
<polygon points="1481.6,832.5 1490.1,872.5 1490.1,832.5 1481.6,798.2" fill="#ff1a66" fill-opacity="0.115"/>
<polygon points="1490.1,872.5 1498.6,916.2 1498.6,872.5 1490.1,832.5" fill="#ff1a66" fill-opacity="0.115"/>
<polygon points="1498.6,916.2 1507.1,913.8 1507.1,916.2 1498.6,872.5" fill="#a682e6" fill-opacity="0.115"/>
<polygon points="1507.1,913.8 1515.6,917.5 1515.6,913.8 1507.1,916.2" fill="#b74acd" fill-opacity="0.115"/>
<polygon points="1515.6,917.5 1524.2,911.5 1524.2,917.5 1515.6,913.8" fill="#a682e6" fill-opacity="0.115"/>
<polygon points="1524.2,911.5 1532.7,916.5 1532.7,911.5 1524.2,917.5" fill="#b74acd" fill-opacity="0.115"/>
<polygon points="1532.7,916.5 1541.2,881.5 1541.2,916.5 1532.7,911.5" fill="#a682e6" fill-opacity="0.115"/>
<polygon points="1541.2,881.5 1549.7,873.2 1549.7,881.5 1541.2,916.5" fill="#2199f8" fill-opacity="0.115"/>
<polygon points="1549.7,873.2 1558.2,865.0 1558.2,873.2 1549.7,881.5" fill="#2199f8" fill-opacity="0.115"/>
<polygon points="1558.2,865.0 1566.7,908.2 1566.7,865.0 1558.2,873.2" fill="#b74acd" fill-opacity="0.115"/>
<polygon points="1566.7,908.2 1575.2,905.0 1575.2,908.2 1566.7,865.0" fill="#a682e6" fill-opacity="0.115"/>
<polygon points="1575.2,905.0 1583.7,903.0 1583.7,905.0 1575.2,908.2" fill="#2199f8" fill-opacity="0.115"/>
<polygon points="1583.7,903.0 1592.2,891.2 1592.2,903.0 1583.7,905.0" fill="#2199f8" fill-opacity="0.115"/>
<polygon points="1592.2,891.2 1600.7,896.2 1600.7,891.2 1592.2,903.0" fill="#b74acd" fill-opacity="0.115"/>
<polygon points="1600.7,896.2 1609.2,909.5 1609.2,896.2 1600.7,891.2" fill="#ff1a66" fill-opacity="0.115"/>
<polygon points="1609.2,909.5 1617.7,892.5 1617.7,909.5 1609.2,896.2" fill="#a682e6" fill-opacity="0.115"/>
<polygon points="1617.7,892.5 1626.2,855.0 1626.2,892.5 1617.7,909.5" fill="#2199f8" fill-opacity="0.115"/>
<polygon points="1626.2,855.0 1634.7,812.5 1634.7,855.0 1626.2,892.5" fill="#2199f8" fill-opacity="0.115"/>
<polygon points="1634.7,812.5 1643.2,769.5 1643.2,812.5 1634.7,855.0" fill="#2199f8" fill-opacity="0.115"/>
<polygon points="1643.2,769.5 1651.7,745.0 1651.7,769.5 1643.2,812.5" fill="#2199f8" fill-opacity="0.115"/>
<polygon points="1651.7,745.0 1660.2,723.8 1660.2,745.0 1651.7,769.5" fill="#2199f8" fill-opacity="0.115"/>
<polygon points="1660.2,723.8 1668.7,730.5 1668.7,723.8 1660.2,745.0" fill="#b74acd" fill-opacity="0.115"/>
<polygon points="1668.7,730.5 1677.3,736.2 1677.3,730.5 1668.7,723.8" fill="#ff1a66" fill-opacity="0.115"/>
<polygon points="1677.3,736.2 1685.8,736.0 1685.8,736.2 1677.3,730.5" fill="#a682e6" fill-opacity="0.115"/>
<polygon points="1685.8,736.0 1694.3,732.0 1694.3,736.0 1685.8,736.2" fill="#2199f8" fill-opacity="0.115"/>
<polygon points="1694.3,732.0 1702.8,740.0 1702.8,732.0 1694.3,736.0" fill="#b74acd" fill-opacity="0.115"/>
<polygon points="1702.8,740.0 1711.3,746.0 1711.3,740.0 1702.8,732.0" fill="#ff1a66" fill-opacity="0.115"/>
<polygon points="1711.3,746.0 1719.8,744.5 1719.8,746.0 1711.3,740.0" fill="#a682e6" fill-opacity="0.115"/>
<polygon points="1719.8,744.5 1728.3,732.5 1728.3,744.5 1719.8,746.0" fill="#2199f8" fill-opacity="0.115"/>
<polygon points="1728.3,732.5 1736.8,750.0 1736.8,732.5 1728.3,744.5" fill="#b74acd" fill-opacity="0.115"/>
<polygon points="1736.8,750.0 1745.3,773.8 1745.3,750.0 1736.8,732.5" fill="#ff1a66" fill-opacity="0.115"/>
<polygon points="1745.3,773.8 1753.8,797.0 1753.8,773.8 1745.3,750.0" fill="#ff1a66" fill-opacity="0.115"/>
<polygon points="1753.8,797.0 1762.3,810.0 1762.3,797.0 1753.8,773.8" fill="#ff1a66" fill-opacity="0.115"/>
<polygon points="1762.3,810.0 1770.8,822.5 1770.8,810.0 1762.3,797.0" fill="#ff1a66" fill-opacity="0.115"/>
<polygon points="1770.8,822.5 1779.3,844.5 1779.3,822.5 1770.8,810.0" fill="#ff1a66" fill-opacity="0.115"/>
<polygon points="1779.3,844.5 1787.8,848.0 1787.8,844.5 1779.3,822.5" fill="#ff1a66" fill-opacity="0.115"/>
<polygon points="1787.8,848.0 1796.3,850.5 1796.3,848.0 1787.8,844.5" fill="#ff1a66" fill-opacity="0.115"/>
<polygon points="1796.3,850.5 1804.8,857.5 1804.8,850.5 1796.3,848.0" fill="#ff1a66" fill-opacity="0.115"/>
<polygon points="1804.8,857.5 1813.3,851.2 1813.3,857.5 1804.8,850.5" fill="#a682e6" fill-opacity="0.115"/>
<polygon points="1813.3,851.2 1821.8,838.0 1821.8,851.2 1813.3,857.5" fill="#2199f8" fill-opacity="0.115"/>
<polygon points="1821.8,838.0 1830.4,802.5 1830.4,838.0 1821.8,851.2" fill="#2199f8" fill-opacity="0.115"/>
<polygon points="1830.4,802.5 1838.9,781.2 1838.9,802.5 1830.4,838.0" fill="#2199f8" fill-opacity="0.115"/>
<polygon points="1838.9,781.2 1847.4,774.5 1847.4,781.2 1838.9,802.5" fill="#2199f8" fill-opacity="0.115"/>
<polygon points="1847.4,774.5 1855.9,777.0 1855.9,774.5 1847.4,781.2" fill="#b74acd" fill-opacity="0.115"/>
<polygon points="1855.9,777.0 1864.4,788.0 1864.4,777.0 1855.9,774.5" fill="#ff1a66" fill-opacity="0.115"/>
<polygon points="1864.4,788.0 1872.9,796.5 1872.9,788.0 1864.4,777.0" fill="#ff1a66" fill-opacity="0.115"/>
<polygon points="1872.9,796.5 1881.4,823.8 1881.4,796.5 1872.9,788.0" fill="#ff1a66" fill-opacity="0.115"/>
<polygon points="1881.4,823.8 1889.9,843.8 1889.9,823.8 1881.4,796.5" fill="#ff1a66" fill-opacity="0.115"/>
<polygon points="1889.9,843.8 1898.4,863.8 1898.4,843.8 1889.9,823.8" fill="#ff1a66" fill-opacity="0.115"/>
<polygon points="1898.4,863.8 1906.9,888.8 1906.9,863.8 1898.4,843.8" fill="#ff1a66" fill-opacity="0.115"/>
<polygon points="1906.9,888.8 1915.4,908.0 1915.4,888.8 1906.9,863.8" fill="#ff1a66" fill-opacity="0.115"/>
<polygon points="1915.4,908.0 1923.9,914.5 1923.9,908.0 1915.4,888.8" fill="#ff1a66" fill-opacity="0.115"/>
<polygon points="1923.9,914.5 1932.4,910.0 1932.4,914.5 1923.9,908.0" fill="#a682e6" fill-opacity="0.115"/>
<polygon points="1932.4,910.0 1940.9,913.0 1940.9,910.0 1932.4,914.5" fill="#b74acd" fill-opacity="0.115"/>
<polygon points="1940.9,913.0 1949.4,927.0 1949.4,913.0 1940.9,910.0" fill="#ff1a66" fill-opacity="0.115"/>
<polygon points="1949.4,927.0 1957.9,917.5 1957.9,927.0 1949.4,913.0" fill="#a682e6" fill-opacity="0.115"/>
<polygon points="1957.9,917.5 1966.4,911.5 1966.4,917.5 1957.9,927.0" fill="#2199f8" fill-opacity="0.115"/>
<polygon points="1966.4,911.5 1974.9,914.2 1974.9,911.5 1966.4,917.5" fill="#b74acd" fill-opacity="0.115"/>
<polygon points="1974.9,914.2 1983.5,927.5 1983.5,914.2 1974.9,911.5" fill="#ff1a66" fill-opacity="0.115"/>
<polygon points="1983.5,927.5 1992.0,921.2 1992.0,927.5 1983.5,914.2" fill="#a682e6" fill-opacity="0.115"/>
<polygon points="1992.0,921.2 2000.5,902.5 2000.5,921.2 1992.0,927.5" fill="#2199f8" fill-opacity="0.115"/>
<polygon points="2000.5,902.5 2009.0,883.8 2009.0,902.5 2000.5,921.2" fill="#2199f8" fill-opacity="0.115"/>
<polygon points="2009.0,883.8 2017.5,875.8 2017.5,883.8 2009.0,902.5" fill="#2199f8" fill-opacity="0.115"/>
<polygon points="2017.5,875.8 2026.0,881.2 2026.0,875.8 2017.5,883.8" fill="#b74acd" fill-opacity="0.115"/>
<polygon points="2026.0,881.2 2034.5,902.0 2034.5,881.2 2026.0,875.8" fill="#ff1a66" fill-opacity="0.115"/>
<polygon points="2034.5,902.0 2043.0,926.5 2043.0,902.0 2034.5,881.2" fill="#ff1a66" fill-opacity="0.115"/>
<polygon points="2043.0,926.5 2051.5,931.2 2051.5,926.5 2043.0,902.0" fill="#ff1a66" fill-opacity="0.115"/>
<polygon points="2051.5,931.2 2060.0,907.5 2060.0,931.2 2051.5,926.5" fill="#a682e6" fill-opacity="0.115"/>
<polygon points="2060.0,907.5 2068.5,882.0 2068.5,907.5 2060.0,931.2" fill="#2199f8" fill-opacity="0.115"/>
<polygon points="2068.5,882.0 2077.0,875.0 2077.0,882.0 2068.5,907.5" fill="#2199f8" fill-opacity="0.115"/>
<polygon points="2077.0,875.0 2085.5,870.5 2085.5,875.0 2077.0,882.0" fill="#2199f8" fill-opacity="0.115"/>
<polygon points="2085.5,870.5 2094.0,858.8 2094.0,870.5 2085.5,875.0" fill="#2199f8" fill-opacity="0.115"/>
<polygon points="2094.0,858.8 2102.5,835.0 2102.5,858.8 2094.0,870.5" fill="#2199f8" fill-opacity="0.115"/>
<polygon points="2102.5,835.0 2111.0,835.5 2111.0,835.0 2102.5,858.8" fill="#b74acd" fill-opacity="0.115"/>
<polygon points="2111.0,835.5 2119.5,830.0 2119.5,835.5 2111.0,835.0" fill="#a682e6" fill-opacity="0.115"/>
<polygon points="2119.5,830.0 2128.0,827.0 2128.0,830.0 2119.5,835.5" fill="#2199f8" fill-opacity="0.115"/>
<polygon points="2128.0,827.0 2136.6,814.5 2136.6,827.0 2128.0,830.0" fill="#2199f8" fill-opacity="0.115"/>
<path d="M1.6 741.5 L10.2 767.5 L18.7 781.2 L27.2 786.2 L35.7 806.2 L44.2 828.8 L52.7 845.0 L61.2 870.0 L69.7 897.5 L78.2 925.0 L86.7 929.5" stroke="#ff1a66" stroke-width="2.1" fill="none" stroke-linejoin="round" stroke-linecap="round"/>
<path d="M86.7 929.5 L95.2 924.2" stroke="#a682e6" stroke-width="2.1" fill="none" stroke-linejoin="round" stroke-linecap="round"/>
<path d="M95.2 924.2 L103.7 917.5" stroke="#2199f8" stroke-width="2.1" fill="none" stroke-linejoin="round" stroke-linecap="round"/>
<path d="M103.7 917.5 L112.2 919.5" stroke="#b74acd" stroke-width="2.1" fill="none" stroke-linejoin="round" stroke-linecap="round"/>
<path d="M112.2 919.5 L120.7 914.0" stroke="#a682e6" stroke-width="2.1" fill="none" stroke-linejoin="round" stroke-linecap="round"/>
<path d="M120.7 914.0 L129.2 872.5 L137.7 836.2 L146.2 808.0" stroke="#2199f8" stroke-width="2.1" fill="none" stroke-linejoin="round" stroke-linecap="round"/>
<path d="M146.2 808.0 L154.8 825.0" stroke="#b74acd" stroke-width="2.1" fill="none" stroke-linejoin="round" stroke-linecap="round"/>
<path d="M154.8 825.0 L163.3 837.5 L171.8 848.0" stroke="#ff1a66" stroke-width="2.1" fill="none" stroke-linejoin="round" stroke-linecap="round"/>
<path d="M171.8 848.0 L180.3 840.5" stroke="#a682e6" stroke-width="2.1" fill="none" stroke-linejoin="round" stroke-linecap="round"/>
<path d="M180.3 840.5 L188.8 833.8" stroke="#2199f8" stroke-width="2.1" fill="none" stroke-linejoin="round" stroke-linecap="round"/>
<path d="M188.8 833.8 L197.3 856.2" stroke="#b74acd" stroke-width="2.1" fill="none" stroke-linejoin="round" stroke-linecap="round"/>
<path d="M197.3 856.2 L205.8 872.5 L214.3 899.5 L222.8 910.0 L231.3 913.2" stroke="#ff1a66" stroke-width="2.1" fill="none" stroke-linejoin="round" stroke-linecap="round"/>
<path d="M231.3 913.2 L239.8 893.0" stroke="#a682e6" stroke-width="2.1" fill="none" stroke-linejoin="round" stroke-linecap="round"/>
<path d="M239.8 893.0 L248.3 886.0" stroke="#2199f8" stroke-width="2.1" fill="none" stroke-linejoin="round" stroke-linecap="round"/>
<path d="M248.3 886.0 L256.8 901.2" stroke="#b74acd" stroke-width="2.1" fill="none" stroke-linejoin="round" stroke-linecap="round"/>
<path d="M256.8 901.2 L265.3 928.0 L273.8 934.2" stroke="#ff1a66" stroke-width="2.1" fill="none" stroke-linejoin="round" stroke-linecap="round"/>
<path d="M273.8 934.2 L282.3 920.0" stroke="#a682e6" stroke-width="2.1" fill="none" stroke-linejoin="round" stroke-linecap="round"/>
<path d="M282.3 920.0 L290.8 917.0" stroke="#2199f8" stroke-width="2.1" fill="none" stroke-linejoin="round" stroke-linecap="round"/>
<path d="M290.8 917.0 L299.3 922.0" stroke="#b74acd" stroke-width="2.1" fill="none" stroke-linejoin="round" stroke-linecap="round"/>
<path d="M299.3 922.0 L307.9 936.2" stroke="#ff1a66" stroke-width="2.1" fill="none" stroke-linejoin="round" stroke-linecap="round"/>
<path d="M307.9 936.2 L316.4 919.5" stroke="#a682e6" stroke-width="2.1" fill="none" stroke-linejoin="round" stroke-linecap="round"/>
<path d="M316.4 919.5 L324.9 883.8 L333.4 849.0" stroke="#2199f8" stroke-width="2.1" fill="none" stroke-linejoin="round" stroke-linecap="round"/>
<path d="M333.4 849.0 L341.9 852.5" stroke="#b74acd" stroke-width="2.1" fill="none" stroke-linejoin="round" stroke-linecap="round"/>
<path d="M341.9 852.5 L350.4 866.5" stroke="#ff1a66" stroke-width="2.1" fill="none" stroke-linejoin="round" stroke-linecap="round"/>
<path d="M350.4 866.5 L358.9 862.5" stroke="#a682e6" stroke-width="2.1" fill="none" stroke-linejoin="round" stroke-linecap="round"/>
<path d="M358.9 862.5 L367.4 837.5 L375.9 802.0" stroke="#2199f8" stroke-width="2.1" fill="none" stroke-linejoin="round" stroke-linecap="round"/>
<path d="M375.9 802.0 L384.4 803.5" stroke="#b74acd" stroke-width="2.1" fill="none" stroke-linejoin="round" stroke-linecap="round"/>
<path d="M384.4 803.5 L392.9 787.5" stroke="#a682e6" stroke-width="2.1" fill="none" stroke-linejoin="round" stroke-linecap="round"/>
<path d="M392.9 787.5 L401.4 800.0" stroke="#b74acd" stroke-width="2.1" fill="none" stroke-linejoin="round" stroke-linecap="round"/>
<path d="M401.4 800.0 L409.9 793.5" stroke="#a682e6" stroke-width="2.1" fill="none" stroke-linejoin="round" stroke-linecap="round"/>
<path d="M409.9 793.5 L418.4 811.0" stroke="#b74acd" stroke-width="2.1" fill="none" stroke-linejoin="round" stroke-linecap="round"/>
<path d="M418.4 811.0 L426.9 813.0 L435.4 827.0 L443.9 840.5 L452.4 846.0" stroke="#ff1a66" stroke-width="2.1" fill="none" stroke-linejoin="round" stroke-linecap="round"/>
<path d="M452.4 846.0 L461.0 834.5" stroke="#a682e6" stroke-width="2.1" fill="none" stroke-linejoin="round" stroke-linecap="round"/>
<path d="M461.0 834.5 L469.5 815.5 L478.0 809.5" stroke="#2199f8" stroke-width="2.1" fill="none" stroke-linejoin="round" stroke-linecap="round"/>
<path d="M478.0 809.5 L486.5 830.5" stroke="#b74acd" stroke-width="2.1" fill="none" stroke-linejoin="round" stroke-linecap="round"/>
<path d="M486.5 830.5 L495.0 876.5 L503.5 884.2" stroke="#ff1a66" stroke-width="2.1" fill="none" stroke-linejoin="round" stroke-linecap="round"/>
<path d="M503.5 884.2 L512.0 852.0" stroke="#a682e6" stroke-width="2.1" fill="none" stroke-linejoin="round" stroke-linecap="round"/>
<path d="M512.0 852.0 L520.5 788.8 L529.0 775.0 L537.5 757.5 L546.0 750.0 L554.5 742.5" stroke="#2199f8" stroke-width="2.1" fill="none" stroke-linejoin="round" stroke-linecap="round"/>
<path d="M554.5 742.5 L563.0 758.0" stroke="#b74acd" stroke-width="2.1" fill="none" stroke-linejoin="round" stroke-linecap="round"/>
<path d="M563.0 758.0 L571.5 822.5 L580.0 850.0 L588.5 900.0" stroke="#ff1a66" stroke-width="2.1" fill="none" stroke-linejoin="round" stroke-linecap="round"/>
<path d="M588.5 900.0 L597.0 884.0" stroke="#a682e6" stroke-width="2.1" fill="none" stroke-linejoin="round" stroke-linecap="round"/>
<path d="M597.0 884.0 L605.5 886.5" stroke="#b74acd" stroke-width="2.1" fill="none" stroke-linejoin="round" stroke-linecap="round"/>
<path d="M605.5 886.5 L614.1 856.8" stroke="#a682e6" stroke-width="2.1" fill="none" stroke-linejoin="round" stroke-linecap="round"/>
<path d="M614.1 856.8 L622.6 858.0" stroke="#b74acd" stroke-width="2.1" fill="none" stroke-linejoin="round" stroke-linecap="round"/>
<path d="M622.6 858.0 L631.1 856.0" stroke="#a682e6" stroke-width="2.1" fill="none" stroke-linejoin="round" stroke-linecap="round"/>
<path d="M631.1 856.0 L639.6 878.8" stroke="#b74acd" stroke-width="2.1" fill="none" stroke-linejoin="round" stroke-linecap="round"/>
<path d="M639.6 878.8 L648.1 865.5" stroke="#a682e6" stroke-width="2.1" fill="none" stroke-linejoin="round" stroke-linecap="round"/>
<path d="M648.1 865.5 L656.6 871.2" stroke="#b74acd" stroke-width="2.1" fill="none" stroke-linejoin="round" stroke-linecap="round"/>
<path d="M656.6 871.2 L665.1 853.5" stroke="#a682e6" stroke-width="2.1" fill="none" stroke-linejoin="round" stroke-linecap="round"/>
<path d="M665.1 853.5 L673.6 859.0" stroke="#b74acd" stroke-width="2.1" fill="none" stroke-linejoin="round" stroke-linecap="round"/>
<path d="M673.6 859.0 L682.1 860.5" stroke="#ff1a66" stroke-width="2.1" fill="none" stroke-linejoin="round" stroke-linecap="round"/>
<path d="M682.1 860.5 L690.6 856.0" stroke="#a682e6" stroke-width="2.1" fill="none" stroke-linejoin="round" stroke-linecap="round"/>
<path d="M690.6 856.0 L699.1 822.0 L707.6 767.5 L716.1 743.8" stroke="#2199f8" stroke-width="2.1" fill="none" stroke-linejoin="round" stroke-linecap="round"/>
<path d="M716.1 743.8 L724.6 762.5" stroke="#b74acd" stroke-width="2.1" fill="none" stroke-linejoin="round" stroke-linecap="round"/>
<path d="M724.6 762.5 L733.1 794.0 L741.6 806.2" stroke="#ff1a66" stroke-width="2.1" fill="none" stroke-linejoin="round" stroke-linecap="round"/>
<path d="M741.6 806.2 L750.1 803.0" stroke="#a682e6" stroke-width="2.1" fill="none" stroke-linejoin="round" stroke-linecap="round"/>
<path d="M750.1 803.0 L758.6 799.0" stroke="#2199f8" stroke-width="2.1" fill="none" stroke-linejoin="round" stroke-linecap="round"/>
<path d="M758.6 799.0 L767.2 814.2" stroke="#b74acd" stroke-width="2.1" fill="none" stroke-linejoin="round" stroke-linecap="round"/>
<path d="M767.2 814.2 L775.7 789.0" stroke="#a682e6" stroke-width="2.1" fill="none" stroke-linejoin="round" stroke-linecap="round"/>
<path d="M775.7 789.0 L784.2 755.5" stroke="#2199f8" stroke-width="2.1" fill="none" stroke-linejoin="round" stroke-linecap="round"/>
<path d="M784.2 755.5 L792.7 779.5" stroke="#b74acd" stroke-width="2.1" fill="none" stroke-linejoin="round" stroke-linecap="round"/>
<path d="M792.7 779.5 L801.2 855.0 L809.7 925.0" stroke="#ff1a66" stroke-width="2.1" fill="none" stroke-linejoin="round" stroke-linecap="round"/>
<path d="M809.7 925.0 L818.2 919.5" stroke="#a682e6" stroke-width="2.1" fill="none" stroke-linejoin="round" stroke-linecap="round"/>
<path d="M818.2 919.5 L826.7 880.0 L835.2 847.5 L843.7 839.5" stroke="#2199f8" stroke-width="2.1" fill="none" stroke-linejoin="round" stroke-linecap="round"/>
<path d="M843.7 839.5 L852.2 841.2" stroke="#b74acd" stroke-width="2.1" fill="none" stroke-linejoin="round" stroke-linecap="round"/>
<path d="M852.2 841.2 L860.7 845.5 L869.2 855.5" stroke="#ff1a66" stroke-width="2.1" fill="none" stroke-linejoin="round" stroke-linecap="round"/>
<path d="M869.2 855.5 L877.7 854.0" stroke="#a682e6" stroke-width="2.1" fill="none" stroke-linejoin="round" stroke-linecap="round"/>
<path d="M877.7 854.0 L886.2 864.2" stroke="#b74acd" stroke-width="2.1" fill="none" stroke-linejoin="round" stroke-linecap="round"/>
<path d="M886.2 864.2 L894.7 854.5" stroke="#a682e6" stroke-width="2.1" fill="none" stroke-linejoin="round" stroke-linecap="round"/>
<path d="M894.7 854.5 L903.2 891.5" stroke="#b74acd" stroke-width="2.1" fill="none" stroke-linejoin="round" stroke-linecap="round"/>
<path d="M903.2 891.5 L911.7 892.0 L920.3 912.5" stroke="#ff1a66" stroke-width="2.1" fill="none" stroke-linejoin="round" stroke-linecap="round"/>
<path d="M920.3 912.5 L928.8 888.0" stroke="#a682e6" stroke-width="2.1" fill="none" stroke-linejoin="round" stroke-linecap="round"/>
<path d="M928.8 888.0 L937.3 858.0 L945.8 828.0" stroke="#2199f8" stroke-width="2.1" fill="none" stroke-linejoin="round" stroke-linecap="round"/>
<path d="M945.8 828.0 L954.3 832.0" stroke="#b74acd" stroke-width="2.1" fill="none" stroke-linejoin="round" stroke-linecap="round"/>
<path d="M954.3 832.0 L962.8 875.0 L971.3 913.8 L979.8 934.2" stroke="#ff1a66" stroke-width="2.1" fill="none" stroke-linejoin="round" stroke-linecap="round"/>
<path d="M979.8 934.2 L988.3 927.0" stroke="#a682e6" stroke-width="2.1" fill="none" stroke-linejoin="round" stroke-linecap="round"/>
<path d="M988.3 927.0 L996.8 918.8 L1005.3 900.0 L1013.8 891.2 L1022.3 871.2" stroke="#2199f8" stroke-width="2.1" fill="none" stroke-linejoin="round" stroke-linecap="round"/>
<path d="M1022.3 871.2 L1030.8 889.5" stroke="#b74acd" stroke-width="2.1" fill="none" stroke-linejoin="round" stroke-linecap="round"/>
<path d="M1030.8 889.5 L1039.3 911.2 L1047.8 940.0" stroke="#ff1a66" stroke-width="2.1" fill="none" stroke-linejoin="round" stroke-linecap="round"/>
<path d="M1047.8 940.0 L1056.3 940.0 L1064.8 935.5" stroke="#b74acd" stroke-width="2.1" fill="none" stroke-linejoin="round" stroke-linecap="round"/>
<path d="M1064.8 935.5 L1073.4 913.8 L1081.9 882.5 L1090.4 865.0" stroke="#2199f8" stroke-width="2.1" fill="none" stroke-linejoin="round" stroke-linecap="round"/>
<path d="M1090.4 865.0 L1098.9 870.8" stroke="#b74acd" stroke-width="2.1" fill="none" stroke-linejoin="round" stroke-linecap="round"/>
<path d="M1098.9 870.8 L1107.4 860.5" stroke="#a682e6" stroke-width="2.1" fill="none" stroke-linejoin="round" stroke-linecap="round"/>
<path d="M1107.4 860.5 L1115.9 840.0 L1124.4 817.5 L1132.9 788.8 L1141.4 758.8 L1149.9 720.8" stroke="#2199f8" stroke-width="2.1" fill="none" stroke-linejoin="round" stroke-linecap="round"/>
<path d="M1149.9 720.8 L1158.4 720.8" stroke="#a682e6" stroke-width="2.1" fill="none" stroke-linejoin="round" stroke-linecap="round"/>
<path d="M1158.4 720.8 L1166.9 733.0" stroke="#b74acd" stroke-width="2.1" fill="none" stroke-linejoin="round" stroke-linecap="round"/>
<path d="M1166.9 733.0 L1175.4 753.0 L1183.9 771.8 L1192.4 773.0" stroke="#ff1a66" stroke-width="2.1" fill="none" stroke-linejoin="round" stroke-linecap="round"/>
<path d="M1192.4 773.0 L1200.9 763.8" stroke="#a682e6" stroke-width="2.1" fill="none" stroke-linejoin="round" stroke-linecap="round"/>
<path d="M1200.9 763.8 L1209.4 761.5" stroke="#2199f8" stroke-width="2.1" fill="none" stroke-linejoin="round" stroke-linecap="round"/>
<path d="M1209.4 761.5 L1218.0 776.0" stroke="#b74acd" stroke-width="2.1" fill="none" stroke-linejoin="round" stroke-linecap="round"/>
<path d="M1218.0 776.0 L1226.5 808.0 L1235.0 826.2 L1243.5 838.0" stroke="#ff1a66" stroke-width="2.1" fill="none" stroke-linejoin="round" stroke-linecap="round"/>
<path d="M1243.5 838.0 L1252.0 830.5" stroke="#a682e6" stroke-width="2.1" fill="none" stroke-linejoin="round" stroke-linecap="round"/>
<path d="M1252.0 830.5 L1260.5 833.8" stroke="#b74acd" stroke-width="2.1" fill="none" stroke-linejoin="round" stroke-linecap="round"/>
<path d="M1260.5 833.8 L1269.0 823.0" stroke="#a682e6" stroke-width="2.1" fill="none" stroke-linejoin="round" stroke-linecap="round"/>
<path d="M1269.0 823.0 L1277.5 814.0 L1286.0 809.0 L1294.5 798.8 L1303.0 788.8 L1311.5 772.0 L1320.0 765.8" stroke="#2199f8" stroke-width="2.1" fill="none" stroke-linejoin="round" stroke-linecap="round"/>
<path d="M1320.0 765.8 L1328.5 777.5" stroke="#b74acd" stroke-width="2.1" fill="none" stroke-linejoin="round" stroke-linecap="round"/>
<path d="M1328.5 777.5 L1337.0 781.2 L1345.5 793.2" stroke="#ff1a66" stroke-width="2.1" fill="none" stroke-linejoin="round" stroke-linecap="round"/>
<path d="M1345.5 793.2 L1354.0 787.5" stroke="#a682e6" stroke-width="2.1" fill="none" stroke-linejoin="round" stroke-linecap="round"/>
<path d="M1354.0 787.5 L1362.5 779.0 L1371.1 772.5 L1379.6 765.8" stroke="#2199f8" stroke-width="2.1" fill="none" stroke-linejoin="round" stroke-linecap="round"/>
<path d="M1379.6 765.8 L1388.1 786.2" stroke="#b74acd" stroke-width="2.1" fill="none" stroke-linejoin="round" stroke-linecap="round"/>
<path d="M1388.1 786.2 L1396.6 822.0 L1405.1 875.0 L1413.6 913.8 L1422.1 932.0" stroke="#ff1a66" stroke-width="2.1" fill="none" stroke-linejoin="round" stroke-linecap="round"/>
<path d="M1422.1 932.0 L1430.6 905.0" stroke="#a682e6" stroke-width="2.1" fill="none" stroke-linejoin="round" stroke-linecap="round"/>
<path d="M1430.6 905.0 L1439.1 861.2 L1447.6 809.0 L1456.1 796.2 L1464.6 789.2" stroke="#2199f8" stroke-width="2.1" fill="none" stroke-linejoin="round" stroke-linecap="round"/>
<path d="M1464.6 789.2 L1473.1 798.2" stroke="#b74acd" stroke-width="2.1" fill="none" stroke-linejoin="round" stroke-linecap="round"/>
<path d="M1473.1 798.2 L1481.6 832.5 L1490.1 872.5 L1498.6 916.2" stroke="#ff1a66" stroke-width="2.1" fill="none" stroke-linejoin="round" stroke-linecap="round"/>
<path d="M1498.6 916.2 L1507.1 913.8" stroke="#a682e6" stroke-width="2.1" fill="none" stroke-linejoin="round" stroke-linecap="round"/>
<path d="M1507.1 913.8 L1515.6 917.5" stroke="#b74acd" stroke-width="2.1" fill="none" stroke-linejoin="round" stroke-linecap="round"/>
<path d="M1515.6 917.5 L1524.2 911.5" stroke="#a682e6" stroke-width="2.1" fill="none" stroke-linejoin="round" stroke-linecap="round"/>
<path d="M1524.2 911.5 L1532.7 916.5" stroke="#b74acd" stroke-width="2.1" fill="none" stroke-linejoin="round" stroke-linecap="round"/>
<path d="M1532.7 916.5 L1541.2 881.5" stroke="#a682e6" stroke-width="2.1" fill="none" stroke-linejoin="round" stroke-linecap="round"/>
<path d="M1541.2 881.5 L1549.7 873.2 L1558.2 865.0" stroke="#2199f8" stroke-width="2.1" fill="none" stroke-linejoin="round" stroke-linecap="round"/>
<path d="M1558.2 865.0 L1566.7 908.2" stroke="#b74acd" stroke-width="2.1" fill="none" stroke-linejoin="round" stroke-linecap="round"/>
<path d="M1566.7 908.2 L1575.2 905.0" stroke="#a682e6" stroke-width="2.1" fill="none" stroke-linejoin="round" stroke-linecap="round"/>
<path d="M1575.2 905.0 L1583.7 903.0 L1592.2 891.2" stroke="#2199f8" stroke-width="2.1" fill="none" stroke-linejoin="round" stroke-linecap="round"/>
<path d="M1592.2 891.2 L1600.7 896.2" stroke="#b74acd" stroke-width="2.1" fill="none" stroke-linejoin="round" stroke-linecap="round"/>
<path d="M1600.7 896.2 L1609.2 909.5" stroke="#ff1a66" stroke-width="2.1" fill="none" stroke-linejoin="round" stroke-linecap="round"/>
<path d="M1609.2 909.5 L1617.7 892.5" stroke="#a682e6" stroke-width="2.1" fill="none" stroke-linejoin="round" stroke-linecap="round"/>
<path d="M1617.7 892.5 L1626.2 855.0 L1634.7 812.5 L1643.2 769.5 L1651.7 745.0 L1660.2 723.8" stroke="#2199f8" stroke-width="2.1" fill="none" stroke-linejoin="round" stroke-linecap="round"/>
<path d="M1660.2 723.8 L1668.7 730.5" stroke="#b74acd" stroke-width="2.1" fill="none" stroke-linejoin="round" stroke-linecap="round"/>
<path d="M1668.7 730.5 L1677.3 736.2" stroke="#ff1a66" stroke-width="2.1" fill="none" stroke-linejoin="round" stroke-linecap="round"/>
<path d="M1677.3 736.2 L1685.8 736.0" stroke="#a682e6" stroke-width="2.1" fill="none" stroke-linejoin="round" stroke-linecap="round"/>
<path d="M1685.8 736.0 L1694.3 732.0" stroke="#2199f8" stroke-width="2.1" fill="none" stroke-linejoin="round" stroke-linecap="round"/>
<path d="M1694.3 732.0 L1702.8 740.0" stroke="#b74acd" stroke-width="2.1" fill="none" stroke-linejoin="round" stroke-linecap="round"/>
<path d="M1702.8 740.0 L1711.3 746.0" stroke="#ff1a66" stroke-width="2.1" fill="none" stroke-linejoin="round" stroke-linecap="round"/>
<path d="M1711.3 746.0 L1719.8 744.5" stroke="#a682e6" stroke-width="2.1" fill="none" stroke-linejoin="round" stroke-linecap="round"/>
<path d="M1719.8 744.5 L1728.3 732.5" stroke="#2199f8" stroke-width="2.1" fill="none" stroke-linejoin="round" stroke-linecap="round"/>
<path d="M1728.3 732.5 L1736.8 750.0" stroke="#b74acd" stroke-width="2.1" fill="none" stroke-linejoin="round" stroke-linecap="round"/>
<path d="M1736.8 750.0 L1745.3 773.8 L1753.8 797.0 L1762.3 810.0 L1770.8 822.5 L1779.3 844.5 L1787.8 848.0 L1796.3 850.5 L1804.8 857.5" stroke="#ff1a66" stroke-width="2.1" fill="none" stroke-linejoin="round" stroke-linecap="round"/>
<path d="M1804.8 857.5 L1813.3 851.2" stroke="#a682e6" stroke-width="2.1" fill="none" stroke-linejoin="round" stroke-linecap="round"/>
<path d="M1813.3 851.2 L1821.8 838.0 L1830.4 802.5 L1838.9 781.2 L1847.4 774.5" stroke="#2199f8" stroke-width="2.1" fill="none" stroke-linejoin="round" stroke-linecap="round"/>
<path d="M1847.4 774.5 L1855.9 777.0" stroke="#b74acd" stroke-width="2.1" fill="none" stroke-linejoin="round" stroke-linecap="round"/>
<path d="M1855.9 777.0 L1864.4 788.0 L1872.9 796.5 L1881.4 823.8 L1889.9 843.8 L1898.4 863.8 L1906.9 888.8 L1915.4 908.0 L1923.9 914.5" stroke="#ff1a66" stroke-width="2.1" fill="none" stroke-linejoin="round" stroke-linecap="round"/>
<path d="M1923.9 914.5 L1932.4 910.0" stroke="#a682e6" stroke-width="2.1" fill="none" stroke-linejoin="round" stroke-linecap="round"/>
<path d="M1932.4 910.0 L1940.9 913.0" stroke="#b74acd" stroke-width="2.1" fill="none" stroke-linejoin="round" stroke-linecap="round"/>
<path d="M1940.9 913.0 L1949.4 927.0" stroke="#ff1a66" stroke-width="2.1" fill="none" stroke-linejoin="round" stroke-linecap="round"/>
<path d="M1949.4 927.0 L1957.9 917.5" stroke="#a682e6" stroke-width="2.1" fill="none" stroke-linejoin="round" stroke-linecap="round"/>
<path d="M1957.9 917.5 L1966.4 911.5" stroke="#2199f8" stroke-width="2.1" fill="none" stroke-linejoin="round" stroke-linecap="round"/>
<path d="M1966.4 911.5 L1974.9 914.2" stroke="#b74acd" stroke-width="2.1" fill="none" stroke-linejoin="round" stroke-linecap="round"/>
<path d="M1974.9 914.2 L1983.5 927.5" stroke="#ff1a66" stroke-width="2.1" fill="none" stroke-linejoin="round" stroke-linecap="round"/>
<path d="M1983.5 927.5 L1992.0 921.2" stroke="#a682e6" stroke-width="2.1" fill="none" stroke-linejoin="round" stroke-linecap="round"/>
<path d="M1992.0 921.2 L2000.5 902.5 L2009.0 883.8 L2017.5 875.8" stroke="#2199f8" stroke-width="2.1" fill="none" stroke-linejoin="round" stroke-linecap="round"/>
<path d="M2017.5 875.8 L2026.0 881.2" stroke="#b74acd" stroke-width="2.1" fill="none" stroke-linejoin="round" stroke-linecap="round"/>
<path d="M2026.0 881.2 L2034.5 902.0 L2043.0 926.5 L2051.5 931.2" stroke="#ff1a66" stroke-width="2.1" fill="none" stroke-linejoin="round" stroke-linecap="round"/>
<path d="M2051.5 931.2 L2060.0 907.5" stroke="#a682e6" stroke-width="2.1" fill="none" stroke-linejoin="round" stroke-linecap="round"/>
<path d="M2060.0 907.5 L2068.5 882.0 L2077.0 875.0 L2085.5 870.5 L2094.0 858.8 L2102.5 835.0" stroke="#2199f8" stroke-width="2.1" fill="none" stroke-linejoin="round" stroke-linecap="round"/>
<path d="M2102.5 835.0 L2111.0 835.5" stroke="#b74acd" stroke-width="2.1" fill="none" stroke-linejoin="round" stroke-linecap="round"/>
<path d="M2111.0 835.5 L2119.5 830.0" stroke="#a682e6" stroke-width="2.1" fill="none" stroke-linejoin="round" stroke-linecap="round"/>
<path d="M2119.5 830.0 L2128.0 827.0 L2136.6 814.5" stroke="#2199f8" stroke-width="2.1" fill="none" stroke-linejoin="round" stroke-linecap="round"/>
<path d="M-6.85 705 L1.6 741.5" stroke="#b74acd" stroke-width="2.1" fill="none"/>
<circle cx="96.1" cy="924.8" r="2.5" fill="#000" stroke="#40c8d0" stroke-width="1.7"/>
<circle cx="113.1" cy="920.0" r="2.5" fill="#000" stroke="#40c8d0" stroke-width="1.7"/>
<circle cx="283.2" cy="920.5" r="2.5" fill="#000" stroke="#40c8d0" stroke-width="1.7"/>
<circle cx="317.2" cy="920.0" r="2.5" fill="#000" stroke="#40c8d0" stroke-width="1.7"/>
<circle cx="819.0" cy="920.0" r="2.5" fill="#000" stroke="#40c8d0" stroke-width="1.7"/>
<circle cx="997.7" cy="919.2" r="2.5" fill="#000" stroke="#40c8d0" stroke-width="1.7"/>
<circle cx="1065.7" cy="936.0" r="2.5" fill="#000" stroke="#40c8d0" stroke-width="1.7"/>
<circle cx="1422.9" cy="932.5" r="2.5" fill="#000" stroke="#40c8d0" stroke-width="1.7"/>
<circle cx="1950.3" cy="927.5" r="2.5" fill="#000" stroke="#40c8d0" stroke-width="1.7"/>
<circle cx="1992.8" cy="921.8" r="2.5" fill="#000" stroke="#40c8d0" stroke-width="1.7"/>
<circle cx="2052.3" cy="931.8" r="2.5" fill="#000" stroke="#40c8d0" stroke-width="1.7"/>
<circle cx="555.4" cy="743.0" r="2.5" fill="#000" stroke="#ff1f5a" stroke-width="1.7"/>
<circle cx="1167.8" cy="733.5" r="2.5" fill="#000" stroke="#ff1f5a" stroke-width="1.7"/>
<circle cx="1703.6" cy="740.5" r="2.5" fill="#000" stroke="#ff1f5a" stroke-width="1.7"/>
<circle cx="1729.1" cy="733.0" r="2.5" fill="#000" stroke="#ff1f5a" stroke-width="1.7"/>
<polygon points="1156.7,708.8 1163.3,708.8 1160,714.2" fill="#e91e63"/>
<polygon points="1053.9,952.6 1060.9,952.6 1057.4,947.6" fill="#30bcc6"/>
<rect x="388.1" y="767.0" width="11" height="17" rx="2.5" fill="#f23645"/>
<path d="M390.6 783.8 l3 3 l3 -3 z" fill="#f23645"/>
<text x="393.6" y="779.0" font-size="12" fill="#fff" stroke="#fff" stroke-width="0.5" text-anchor="middle">R</text>
<rect x="1834.1" y="763.0" width="11" height="17" rx="2.5" fill="#f23645"/>
<path d="M1836.6 779.8 l3 2 l3 -2 z" fill="#f23645"/>
<text x="1839.6" y="775.0" font-size="12" fill="#fff" stroke="#fff" stroke-width="0.5" text-anchor="middle">R</text>
<path d="M867.1 857.2 l2.5 -1.5 l2.5 1.5 z" fill="#4caf50"/>
<rect x="864.1" y="857.0" width="11" height="18" rx="2.5" fill="#4caf50"/>
<text x="869.6" y="869.0" font-size="12" fill="#fff" stroke="#fff" stroke-width="0.5" text-anchor="middle">R</text>
</g>
<rect x="4" y="685" width="168" height="24" fill="#131722" fill-opacity="0.6"/>
<g font-size="12" fill="#868993" stroke="#868993" stroke-width="0.2">
<text x="9.1" y="702" textLength="56.4" lengthAdjust="spacingAndGlyphs">[KRONOS]</text>
<text x="69.1" y="702" textLength="44.4" lengthAdjust="spacingAndGlyphs">Gamma</text>
<text x="117.1" y="702" textLength="50.0" lengthAdjust="spacingAndGlyphs">Strength</text>
</g>
<rect x="0" y="680" width="2287" height="1" fill="#e6e8f0" shape-rendering="crispEdges"/>
<text x="2236" y="82.0" font-size="11" fill="#9598a1" stroke="#9598a1" stroke-width="0.3">1,780.00</text>
<text x="2236" y="131.1" font-size="11" fill="#9598a1" stroke="#9598a1" stroke-width="0.3">1,760.00</text>
<text x="2236" y="180.2" font-size="11" fill="#9598a1" stroke="#9598a1" stroke-width="0.3">1,740.00</text>
<text x="2236" y="229.2" font-size="11" fill="#9598a1" stroke="#9598a1" stroke-width="0.3">1,720.00</text>
<text x="2236" y="278.3" font-size="11" fill="#9598a1" stroke="#9598a1" stroke-width="0.3">1,700.00</text>
<text x="2236" y="327.4" font-size="11" fill="#9598a1" stroke="#9598a1" stroke-width="0.3">1,680.00</text>
<text x="2236" y="376.5" font-size="11" fill="#9598a1" stroke="#9598a1" stroke-width="0.3">1,660.00</text>
<text x="2236" y="425.6" font-size="11" fill="#9598a1" stroke="#9598a1" stroke-width="0.3">1,640.00</text>
<text x="2236" y="474.6" font-size="11" fill="#9598a1" stroke="#9598a1" stroke-width="0.3">1,620.00</text>
<text x="2236" y="523.7" font-size="11" fill="#9598a1" stroke="#9598a1" stroke-width="0.3">1,600.00</text>
<text x="2236" y="572.8" font-size="11" fill="#9598a1" stroke="#9598a1" stroke-width="0.3">1,580.00</text>
<text x="2236" y="621.9" font-size="11" fill="#9598a1" stroke="#9598a1" stroke-width="0.3">1,560.00</text>
<text x="2236" y="671.0" font-size="11" fill="#9598a1" stroke="#9598a1" stroke-width="0.3">1,540.00</text>
<text x="2236" y="724.9" font-size="11" fill="#9598a1" stroke="#9598a1" stroke-width="0.3">1.00</text>
<text x="2236" y="768.7" font-size="11" fill="#9598a1" stroke="#9598a1" stroke-width="0.3">0.80</text>
<text x="2236" y="812.5" font-size="11" fill="#9598a1" stroke="#9598a1" stroke-width="0.3">0.60</text>
<text x="2236" y="856.3" font-size="11" fill="#9598a1" stroke="#9598a1" stroke-width="0.3">0.40</text>
<text x="2236" y="900.1" font-size="11" fill="#9598a1" stroke="#9598a1" stroke-width="0.3">0.20</text>
<text x="2236" y="943.9" font-size="11" fill="#9598a1" stroke="#9598a1" stroke-width="0.3">0.00</text>
<text x="36.0" y="991.7" font-size="11" fill="#9598a1" stroke="#9598a1" stroke-width="0.3" text-anchor="middle">06:00</text>
<text x="87.0" y="991.7" font-size="11" fill="#9598a1" stroke="#9598a1" stroke-width="0.3" text-anchor="middle">12:00</text>
<text x="138.0" y="991.7" font-size="11" fill="#9598a1" stroke="#9598a1" stroke-width="0.3" text-anchor="middle">18:00</text>
<text x="189.0" y="991.7" font-size="11" fill="#9598a1" stroke="#9598a1" stroke-width="0.3" text-anchor="middle">29</text>
<text x="240.0" y="991.7" font-size="11" fill="#9598a1" stroke="#9598a1" stroke-width="0.3" text-anchor="middle">06:00</text>
<text x="291.0" y="991.7" font-size="11" fill="#9598a1" stroke="#9598a1" stroke-width="0.3" text-anchor="middle">12:00</text>
<text x="342.0" y="991.7" font-size="11" fill="#9598a1" stroke="#9598a1" stroke-width="0.3" text-anchor="middle">18:00</text>
<text x="393.0" y="991.7" font-size="11" fill="#9598a1" stroke="#9598a1" stroke-width="0.3" text-anchor="middle">30</text>
<text x="444.0" y="991.7" font-size="11" fill="#9598a1" stroke="#9598a1" stroke-width="0.3" text-anchor="middle">06:00</text>
<text x="495.0" y="991.7" font-size="11" fill="#9598a1" stroke="#9598a1" stroke-width="0.3" text-anchor="middle">12:00</text>
<text x="546.0" y="991.7" font-size="11" fill="#9598a1" stroke="#9598a1" stroke-width="0.3" text-anchor="middle">18:00</text>
<text x="597.0" y="991.7" font-size="11" fill="#9598a1" stroke="#9598a1" stroke-width="0.3" text-anchor="middle">31</text>
<text x="648.0" y="991.7" font-size="11" fill="#9598a1" stroke="#9598a1" stroke-width="0.3" text-anchor="middle">06:00</text>
<text x="699.0" y="991.7" font-size="11" fill="#9598a1" stroke="#9598a1" stroke-width="0.3" text-anchor="middle">12:00</text>
<text x="750.0" y="991.7" font-size="11" fill="#9598a1" stroke="#9598a1" stroke-width="0.3" text-anchor="middle">18:00</text>
<text x="801.0" y="991.7" font-size="11" fill="#9598a1" stroke="#9598a1" stroke-width="0.3" text-anchor="middle">Aug</text>
<text x="852.0" y="991.7" font-size="11" fill="#9598a1" stroke="#9598a1" stroke-width="0.3" text-anchor="middle">06:00</text>
<text x="903.0" y="991.7" font-size="11" fill="#9598a1" stroke="#9598a1" stroke-width="0.3" text-anchor="middle">12:00</text>
<text x="954.0" y="991.7" font-size="11" fill="#9598a1" stroke="#9598a1" stroke-width="0.3" text-anchor="middle">18:00</text>
<text x="1005.0" y="991.7" font-size="11" fill="#9598a1" stroke="#9598a1" stroke-width="0.3" text-anchor="middle">2</text>
<text x="1057.0" y="991.7" font-size="11" fill="#9598a1" stroke="#9598a1" stroke-width="0.3" text-anchor="middle">06:00</text>
<text x="1108.0" y="991.7" font-size="11" fill="#9598a1" stroke="#9598a1" stroke-width="0.3" text-anchor="middle">12:00</text>
<text x="1159.0" y="991.7" font-size="11" fill="#9598a1" stroke="#9598a1" stroke-width="0.3" text-anchor="middle">18:00</text>
<text x="1210.0" y="991.7" font-size="11" fill="#9598a1" stroke="#9598a1" stroke-width="0.3" text-anchor="middle">3</text>
<text x="1261.0" y="991.7" font-size="11" fill="#9598a1" stroke="#9598a1" stroke-width="0.3" text-anchor="middle">06:00</text>
<text x="1312.0" y="991.7" font-size="11" fill="#9598a1" stroke="#9598a1" stroke-width="0.3" text-anchor="middle">12:00</text>
<text x="1363.0" y="991.7" font-size="11" fill="#9598a1" stroke="#9598a1" stroke-width="0.3" text-anchor="middle">18:00</text>
<text x="1414.0" y="991.7" font-size="11" fill="#9598a1" stroke="#9598a1" stroke-width="0.3" text-anchor="middle">4</text>
<text x="1465.0" y="991.7" font-size="11" fill="#9598a1" stroke="#9598a1" stroke-width="0.3" text-anchor="middle">06:00</text>
<text x="1516.0" y="991.7" font-size="11" fill="#9598a1" stroke="#9598a1" stroke-width="0.3" text-anchor="middle">12:00</text>
<text x="1567.0" y="991.7" font-size="11" fill="#9598a1" stroke="#9598a1" stroke-width="0.3" text-anchor="middle">18:00</text>
<text x="1618.0" y="991.7" font-size="11" fill="#9598a1" stroke="#9598a1" stroke-width="0.3" text-anchor="middle">5</text>
<text x="1669.0" y="991.7" font-size="11" fill="#9598a1" stroke="#9598a1" stroke-width="0.3" text-anchor="middle">06:00</text>
<text x="1720.0" y="991.7" font-size="11" fill="#9598a1" stroke="#9598a1" stroke-width="0.3" text-anchor="middle">12:00</text>
<text x="1771.0" y="991.7" font-size="11" fill="#9598a1" stroke="#9598a1" stroke-width="0.3" text-anchor="middle">18:00</text>
<text x="1822.0" y="991.7" font-size="11" fill="#9598a1" stroke="#9598a1" stroke-width="0.3" text-anchor="middle">6</text>
<text x="1873.0" y="991.7" font-size="11" fill="#9598a1" stroke="#9598a1" stroke-width="0.3" text-anchor="middle">06:00</text>
<text x="1924.0" y="991.7" font-size="11" fill="#9598a1" stroke="#9598a1" stroke-width="0.3" text-anchor="middle">12:00</text>
<text x="1975.0" y="991.7" font-size="11" fill="#9598a1" stroke="#9598a1" stroke-width="0.3" text-anchor="middle">18:00</text>
<text x="2026.0" y="991.7" font-size="11" fill="#9598a1" stroke="#9598a1" stroke-width="0.3" text-anchor="middle">7</text>
<text x="2077.0" y="991.7" font-size="11" fill="#9598a1" stroke="#9598a1" stroke-width="0.3" text-anchor="middle">06:00</text>
<text x="2128.0" y="991.7" font-size="11" fill="#9598a1" stroke="#9598a1" stroke-width="0.3" text-anchor="middle">12:00</text>
<text x="2179.0" y="991.7" font-size="11" fill="#9598a1" stroke="#9598a1" stroke-width="0.3" text-anchor="middle">18:00</text>
<path d="M2152 306h75v17h-75a2 2 0 0 1-2-2v-13a2 2 0 0 1 2-2z" fill="#089981"/>
<path d="M2228 306h53a2 2 0 0 1 2 2v13a2 2 0 0 1-2 2h-53z" fill="#089981"/>
<text x="2153.6" y="318.5" font-size="10.5" fill="#fff" stroke="#fff" stroke-width="0.15" textLength="69.4" lengthAdjust="spacingAndGlyphs">ETHUSDTPERP</text>
<text x="2236" y="318.5" font-size="11" fill="#fff" font-weight="bold">1,684.50</text>
<rect x="2231.5" y="4.5" width="53" height="25" rx="3.5" fill="#0f0f0f" stroke="#5a5a5a"/>
<text x="2235" y="21.2" font-size="12.5" fill="#f4f4f4" stroke="#f4f4f4" stroke-width="0.25" textLength="28.5" lengthAdjust="spacingAndGlyphs">USDT</text>
<rect x="2242.3" y="34" width="2.2" height="1" fill="#6e717c"/>
<defs><linearGradient id="eg" x1="0" y1="0" x2="0" y2="1"><stop offset="0" stop-color="#3d4f9f"/><stop offset="1" stop-color="#6a6fc0"/></linearGradient></defs>
<circle cx="18" cy="16" r="9" fill="url(#eg)"/>
<path d="M18 9.5l-4 6.6 4 2.3 4-2.3z" fill="#fff" fill-opacity="0.9"/><path d="M18 22.3l-4-5.4 4 2.3 4-2.3z" fill="#fff" fill-opacity="0.9"/>
<g font-size="15" fill="#8a8d99" stroke="#8a8d99" stroke-width="0.2">
<text x="30.7" y="21.5" textLength="69.7" lengthAdjust="spacingAndGlyphs">Ethereum</text>
<text x="106.2" y="21.5" textLength="5.4" lengthAdjust="spacingAndGlyphs">/</text>
<text x="117.2" y="21.5" textLength="64.2" lengthAdjust="spacingAndGlyphs">TetherUS</text>
<text x="186.2" y="21.5" textLength="82.7" lengthAdjust="spacingAndGlyphs">PERPETUAL</text>
<text x="272.7" y="21.5" textLength="63.7" lengthAdjust="spacingAndGlyphs">FUTURES</text>
<text x="342.5" y="21.5" text-anchor="middle" font-weight="bold">·</text>
<text x="348.7" y="21.5" textLength="16.7" lengthAdjust="spacingAndGlyphs">1h</text>
<text x="371.5" y="21.5" text-anchor="middle" font-weight="bold">·</text>
<text x="377.7" y="21.5" textLength="61.7" lengthAdjust="spacingAndGlyphs">BINANCE</text>
</g>
<g fill="#e4e4e4" stroke="#16181d" stroke-width="1.6" paint-order="stroke" stroke-linejoin="round">
<path d="M12 948h12v15h-6v-9h-6z"/><circle cx="29" cy="951" r="3"/><path d="M35 948h7.3l-6.3 15h-7.3z"/>
<text x="49" y="963" font-size="20.5" font-weight="bold" textLength="121" lengthAdjust="spacingAndGlyphs">TradingView</text>
</g>
<path d="M0 0H3.2A3.2 3.2 0 0 0 0 3.2Z" fill="#000"/><path d="M0 4.2A4.2 4.2 0 0 1 4.2 0" fill="none" stroke="#3e3e3e" stroke-width="1.1"/>
<path d="M2287 0v1.8l-1.8 -1.8z" fill="#3a3a3a"/>
<path d="M0 1001h1.8l-1.8 -1.8z" fill="#3a3a3a"/>
</svg></body></html>
